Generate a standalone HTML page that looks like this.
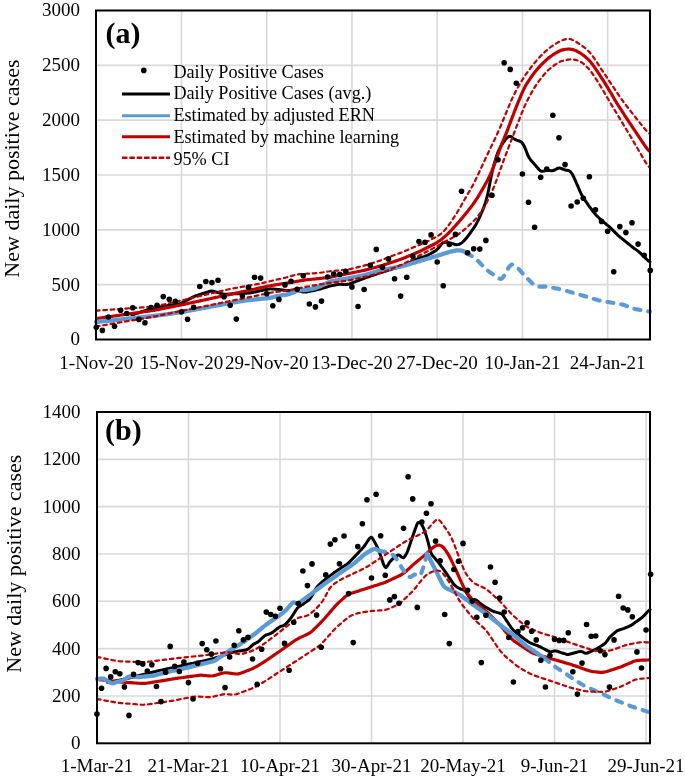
<!DOCTYPE html><html><head><meta charset="utf-8"><style>html,body{margin:0;padding:0;background:#fff;width:685px;height:778px;overflow:hidden}svg{display:block;will-change:transform}.t{font-family:"Liberation Serif",serif;font-size:19px;fill:#000}.ti{font-family:"Liberation Serif",serif;font-size:22px;fill:#000}.lg{font-family:"Liberation Serif",serif;font-size:18.2px;fill:#000}.lb{font-family:"Liberation Serif",serif;font-size:30px;font-weight:bold;fill:#000}</style></head><body>
<svg width="685" height="778" viewBox="0 0 685 778">
<rect width="685" height="778" fill="#fff"/>
<line x1="96" y1="65.33" x2="650" y2="65.33" stroke="#D9D9D9" stroke-width="1.6"/>
<line x1="96" y1="120.17" x2="650" y2="120.17" stroke="#D9D9D9" stroke-width="1.6"/>
<line x1="96" y1="175" x2="650" y2="175" stroke="#D9D9D9" stroke-width="1.6"/>
<line x1="96" y1="229.83" x2="650" y2="229.83" stroke="#D9D9D9" stroke-width="1.6"/>
<line x1="96" y1="284.67" x2="650" y2="284.67" stroke="#D9D9D9" stroke-width="1.6"/>
<line x1="181.49" y1="10.5" x2="181.49" y2="339.5" stroke="#D9D9D9" stroke-width="1.6"/>
<line x1="266.72" y1="10.5" x2="266.72" y2="339.5" stroke="#D9D9D9" stroke-width="1.6"/>
<line x1="351.95" y1="10.5" x2="351.95" y2="339.5" stroke="#D9D9D9" stroke-width="1.6"/>
<line x1="437.18" y1="10.5" x2="437.18" y2="339.5" stroke="#D9D9D9" stroke-width="1.6"/>
<line x1="522.41" y1="10.5" x2="522.41" y2="339.5" stroke="#D9D9D9" stroke-width="1.6"/>
<line x1="607.64" y1="10.5" x2="607.64" y2="339.5" stroke="#D9D9D9" stroke-width="1.6"/>
<text x="80" y="345.4" text-anchor="end" class="t">0</text>
<text x="80" y="290.57" text-anchor="end" class="t">500</text>
<text x="80" y="235.73" text-anchor="end" class="t">1000</text>
<text x="80" y="180.9" text-anchor="end" class="t">1500</text>
<text x="80" y="126.07" text-anchor="end" class="t">2000</text>
<text x="80" y="71.23" text-anchor="end" class="t">2500</text>
<text x="80" y="16.4" text-anchor="end" class="t">3000</text>
<text x="96.26" y="369" text-anchor="middle" class="t">1-Nov-20</text>
<text x="181.49" y="369" text-anchor="middle" class="t">15-Nov-20</text>
<text x="266.72" y="369" text-anchor="middle" class="t">29-Nov-20</text>
<text x="351.95" y="369" text-anchor="middle" class="t">13-Dec-20</text>
<text x="437.18" y="369" text-anchor="middle" class="t">27-Dec-20</text>
<text x="522.41" y="369" text-anchor="middle" class="t">10-Jan-21</text>
<text x="607.64" y="369" text-anchor="middle" class="t">24-Jan-21</text>
<text transform="translate(19,168.6) rotate(-90)" text-anchor="middle" class="ti">New daily positive cases</text>
<text x="105.5" y="42.6" class="lb">(a)</text>
<path d="M132 314.8 C132.33 314.72 133.33 314.5 134 314.31 C134.67 314.12 135.33 313.88 136 313.67 C136.67 313.45 137.33 313.22 138 313 C138.67 312.78 139.33 312.56 140 312.33 C140.67 312.1 141.33 311.88 142 311.65 C142.67 311.42 143.33 311.18 144 310.95 C144.67 310.72 145.33 310.48 146 310.25 C146.67 310.01 147.33 309.77 148 309.55 C148.67 309.33 149.33 309.09 150 308.9 C150.67 308.7 151.33 308.54 152 308.39 C152.67 308.24 153.33 308.13 154 308 C154.67 307.88 155.33 307.76 156 307.64 C156.67 307.51 157.33 307.39 158 307.27 C158.67 307.15 159.33 307.03 160 306.91 C160.67 306.79 161.33 306.67 162 306.55 C162.67 306.43 163.33 306.3 164 306.19 C164.67 306.08 165.33 305.97 166 305.86 C166.67 305.76 167.33 305.66 168 305.56 C168.67 305.46 169.33 305.36 170 305.27 C170.67 305.17 171.33 305.07 172 304.97 C172.67 304.88 173.33 304.78 174 304.68 C174.67 304.58 175.33 304.49 176 304.39 C176.67 304.28 177.33 304.2 178 304.07 C178.67 303.94 179.33 303.8 180 303.58 C180.67 303.35 181.33 303.05 182 302.74 C182.67 302.43 183.33 302.06 184 301.72 C184.67 301.38 185.33 301.03 186 300.68 C186.67 300.33 187.33 299.99 188 299.64 C188.67 299.29 189.33 298.95 190 298.6 C190.67 298.25 191.33 297.9 192 297.56 C192.67 297.22 193.33 296.87 194 296.57 C194.67 296.26 195.33 295.98 196 295.73 C196.67 295.48 197.33 295.27 198 295.06 C198.67 294.84 199.33 294.63 200 294.42 C200.67 294.21 201.33 294 202 293.79 C202.67 293.58 203.33 293.37 204 293.16 C204.67 292.95 205.33 292.74 206 292.53 C206.67 292.32 207.33 292.1 208 291.9 C208.67 291.7 209.33 291.46 210 291.32 C210.67 291.18 211.33 291.06 212 291.07 C212.67 291.09 213.33 291.25 214 291.4 C214.67 291.55 215.33 291.79 216 291.98 C216.67 292.18 217.33 292.39 218 292.6 C218.67 292.8 219.33 293.01 220 293.21 C220.67 293.41 221.33 293.63 222 293.79 C222.67 293.96 223.33 294.12 224 294.2 C224.67 294.28 225.33 294.27 226 294.27 C226.67 294.26 227.33 294.21 228 294.18 C228.67 294.15 229.33 294.11 230 294.07 C230.67 294.04 231.33 294 232 293.97 C232.67 293.93 233.33 293.89 234 293.86 C234.67 293.82 235.33 293.79 236 293.75 C236.67 293.72 237.33 293.68 238 293.64 C238.67 293.61 239.33 293.57 240 293.54 C240.67 293.5 241.33 293.46 242 293.43 C242.67 293.39 243.33 293.36 244 293.32 C244.67 293.29 245.33 293.25 246 293.21 C246.67 293.18 247.33 293.15 248 293.1 C248.67 293.05 249.33 292.99 250 292.9 C250.67 292.81 251.33 292.69 252 292.56 C252.67 292.43 253.33 292.28 254 292.14 C254.67 292 255.33 291.85 256 291.71 C256.67 291.57 257.33 291.42 258 291.28 C258.67 291.14 259.33 290.99 260 290.85 C260.67 290.71 261.33 290.56 262 290.42 C262.67 290.28 263.33 290.13 264 289.99 C264.67 289.85 265.33 289.7 266 289.56 C266.67 289.42 267.33 289.26 268 289.15 C268.67 289.04 269.33 288.92 270 288.88 C270.67 288.84 271.33 288.88 272 288.91 C272.67 288.94 273.33 289.02 274 289.08 C274.67 289.14 275.33 289.21 276 289.27 C276.67 289.34 277.33 289.41 278 289.48 C278.67 289.55 279.33 289.61 280 289.68 C280.67 289.75 281.33 289.82 282 289.89 C282.67 289.97 283.33 290.04 284 290.12 C284.67 290.2 285.33 290.29 286 290.37 C286.67 290.45 287.33 290.55 288 290.61 C288.67 290.68 289.33 290.74 290 290.74 C290.67 290.73 291.33 290.67 292 290.6 C292.67 290.54 293.33 290.41 294 290.36 C294.67 290.3 295.33 290.23 296 290.3 C296.67 290.36 297.33 290.56 298 290.74 C298.67 290.93 299.33 291.23 300 291.42 C300.67 291.6 301.33 291.76 302 291.87 C302.67 291.97 303.33 292.03 304 292.04 C304.67 292.05 305.33 292.01 306 291.94 C306.67 291.87 307.33 291.73 308 291.62 C308.67 291.5 309.33 291.36 310 291.23 C310.67 291.1 311.33 290.98 312 290.84 C312.67 290.71 313.33 290.57 314 290.42 C314.67 290.27 315.33 290.11 316 289.95 C316.67 289.79 317.33 289.62 318 289.45 C318.67 289.28 319.33 289.12 320 288.95 C320.67 288.78 321.33 288.61 322 288.43 C322.67 288.25 323.33 288.05 324 287.86 C324.67 287.66 325.33 287.45 326 287.24 C326.67 287.04 327.33 286.82 328 286.63 C328.67 286.43 329.33 286.24 330 286.06 C330.67 285.89 331.33 285.74 332 285.6 C332.67 285.45 333.33 285.32 334 285.18 C334.67 285.05 335.33 284.9 336 284.78 C336.67 284.65 337.33 284.51 338 284.44 C338.67 284.36 339.33 284.32 340 284.32 C340.67 284.31 341.33 284.36 342 284.39 C342.67 284.42 343.33 284.47 344 284.5 C344.67 284.53 345.33 284.59 346 284.56 C346.67 284.53 347.33 284.48 348 284.34 C348.67 284.2 349.33 283.96 350 283.73 C350.67 283.5 351.33 283.23 352 282.98 C352.67 282.72 353.33 282.47 354 282.21 C354.67 281.96 355.33 281.7 356 281.45 C356.67 281.19 357.33 280.94 358 280.68 C358.67 280.42 359.33 280.17 360 279.91 C360.67 279.66 361.33 279.4 362 279.15 C362.67 278.9 363.33 278.64 364 278.39 C364.67 278.15 365.33 277.9 366 277.67 C366.67 277.43 367.33 277.21 368 276.98 C368.67 276.75 369.33 276.52 370 276.3 C370.67 276.07 371.33 275.84 372 275.61 C372.67 275.39 373.33 275.16 374 274.93 C374.67 274.7 375.33 274.48 376 274.25 C376.67 274.02 377.33 273.8 378 273.57 C378.67 273.34 379.33 273.11 380 272.89 C380.67 272.66 381.33 272.44 382 272.22 C382.67 272 383.33 271.79 384 271.58 C384.67 271.38 385.33 271.18 386 270.98 C386.67 270.77 387.33 270.57 388 270.37 C388.67 270.17 389.33 269.97 390 269.77 C390.67 269.57 391.33 269.37 392 269.17 C392.67 268.96 393.33 268.76 394 268.56 C394.67 268.36 395.33 268.16 396 267.96 C396.67 267.76 397.33 267.56 398 267.36 C398.67 267.15 399.33 266.96 400 266.75 C400.67 266.54 401.33 266.33 402 266.08 C402.67 265.83 403.33 265.54 404 265.24 C404.67 264.94 405.33 264.61 406 264.28 C406.67 263.96 407.33 263.63 408 263.31 C408.67 262.98 409.33 262.65 410 262.33 C410.67 262 411.33 261.67 412 261.35 C412.67 261.02 413.33 260.69 414 260.37 C414.67 260.04 415.33 259.71 416 259.41 C416.67 259.11 417.33 258.83 418 258.57 C418.67 258.32 419.33 258.11 420 257.89 C420.67 257.67 421.33 257.47 422 257.26 C422.67 257.05 423.33 256.85 424 256.63 C424.67 256.42 425.33 256.21 426 255.95 C426.67 255.69 427.33 255.39 428 255.05 C428.67 254.72 429.33 254.32 430 253.94 C430.67 253.56 431.33 253.17 432 252.78 C432.67 252.39 433.33 252.01 434 251.6 C434.67 251.2 435.33 250.85 436 250.34 C436.67 249.83 437.33 249.28 438 248.56 C438.67 247.85 439.33 246.87 440 246.04 C440.67 245.21 441.33 244.19 442 243.58 C442.67 242.98 443.33 242.6 444 242.39 C444.67 242.17 445.33 242.29 446 242.31 C446.67 242.33 447.33 242.41 448 242.51 C448.67 242.6 449.33 242.72 450 242.88 C450.67 243.04 451.33 243.26 452 243.46 C452.67 243.67 453.33 243.91 454 244.11 C454.67 244.3 455.33 244.56 456 244.64 C456.67 244.72 457.33 244.73 458 244.6 C458.67 244.47 459.33 244.17 460 243.84 C460.67 243.51 461.33 243.15 462 242.65 C462.67 242.14 463.33 241.5 464 240.81 C464.67 240.12 465.33 239.29 466 238.49 C466.67 237.69 467.33 236.88 468 236.02 C468.67 235.17 469.33 234.27 470 233.35 C470.67 232.43 471.33 231.45 472 230.48 C472.67 229.52 473.33 228.57 474 227.56 C474.67 226.55 475.33 225.59 476 224.44 C476.67 223.29 477.33 222.02 478 220.67 C478.67 219.31 479.33 217.8 480 216.31 C480.67 214.83 481.33 213.36 482 211.76 C482.67 210.15 483.33 208.55 484 206.69 C484.67 204.83 485.33 202.91 486 200.6 C486.67 198.29 487.33 195.83 488 192.82 C488.67 189.81 489.33 185.88 490 182.54 C490.67 179.19 491.33 175.68 492 172.75 C492.67 169.82 493.33 167.44 494 164.97 C494.67 162.5 495.33 160.1 496 157.95 C496.67 155.79 497.33 153.74 498 152.06 C498.67 150.37 499.33 149.11 500 147.83 C500.67 146.55 501.33 145.44 502 144.38 C502.67 143.33 503.33 142.38 504 141.49 C504.67 140.6 505.33 139.79 506 139.04 C506.67 138.28 507.33 137.41 508 136.95 C508.67 136.48 509.33 136.17 510 136.23 C510.67 136.29 511.33 136.87 512 137.3 C512.67 137.73 513.33 138.38 514 138.81 C514.67 139.25 515.33 139.6 516 139.89 C516.67 140.18 517.33 140.33 518 140.57 C518.67 140.8 519.33 140.94 520 141.3 C520.67 141.66 521.33 142 522 142.75 C522.67 143.49 523.33 144.46 524 145.75 C524.67 147.05 525.33 148.9 526 150.53 C526.67 152.15 527.33 154.1 528 155.51 C528.67 156.93 529.33 158.04 530 159.03 C530.67 160.02 531.33 160.67 532 161.44 C532.67 162.22 533.33 162.93 534 163.69 C534.67 164.45 535.33 165.23 536 166.01 C536.67 166.79 537.33 167.64 538 168.38 C538.67 169.12 539.33 169.96 540 170.45 C540.67 170.93 541.33 171.21 542 171.29 C542.67 171.37 543.33 171.07 544 170.93 C544.67 170.78 545.33 170.53 546 170.44 C546.67 170.35 547.33 170.36 548 170.38 C548.67 170.41 549.33 170.55 550 170.6 C550.67 170.65 551.33 170.76 552 170.7 C552.67 170.63 553.33 170.46 554 170.22 C554.67 169.98 555.33 169.57 556 169.25 C556.67 168.94 557.33 168.51 558 168.31 C558.67 168.12 559.33 168 560 168.07 C560.67 168.14 561.33 168.48 562 168.74 C562.67 169 563.33 169.38 564 169.62 C564.67 169.85 565.33 170.02 566 170.17 C566.67 170.31 567.33 170.29 568 170.48 C568.67 170.67 569.33 170.75 570 171.3 C570.67 171.86 571.33 172.75 572 173.81 C572.67 174.86 573.33 176.28 574 177.65 C574.67 179.02 575.33 180.5 576 182 C576.67 183.51 577.33 185.11 578 186.66 C578.67 188.22 579.33 189.86 580 191.34 C580.67 192.81 581.33 194.26 582 195.5 C582.67 196.75 583.33 197.76 584 198.79 C584.67 199.82 585.33 200.72 586 201.68 C586.67 202.64 587.33 203.58 588 204.53 C588.67 205.47 589.33 206.42 590 207.34 C590.67 208.26 591.33 209.16 592 210.03 C592.67 210.91 593.33 211.77 594 212.59 C594.67 213.41 595.33 214.23 596 214.97 C596.67 215.7 597.33 216.37 598 217.01 C598.67 217.66 599.33 218.26 600 218.87 C600.67 219.47 601.33 220.07 602 220.65 C602.67 221.23 603.33 221.79 604 222.34 C604.67 222.9 605.33 223.45 606 224 C606.67 224.55 607.33 225.09 608 225.66 C608.67 226.23 609.33 226.8 610 227.41 C610.67 228.02 611.33 228.68 612 229.34 C612.67 229.99 613.33 230.68 614 231.35 C614.67 232.02 615.33 232.71 616 233.36 C616.67 234.01 617.33 234.66 618 235.26 C618.67 235.87 619.33 236.42 620 236.98 C620.67 237.54 621.33 238.07 622 238.62 C622.67 239.16 623.33 239.7 624 240.25 C624.67 240.79 625.33 241.33 626 241.87 C626.67 242.42 627.33 242.96 628 243.5 C628.67 244.04 629.33 244.59 630 245.12 C630.67 245.66 631.33 246.2 632 246.71 C632.67 247.22 633.33 247.71 634 248.19 C634.67 248.68 635.33 249.14 636 249.62 C636.67 250.11 637.33 250.58 638 251.11 C638.67 251.64 639.33 252.21 640 252.82 C640.67 253.42 641.33 254.08 642 254.72 C642.67 255.36 643.33 256.01 644 256.66 C644.67 257.31 645.33 257.97 646 258.61 C646.67 259.24 647.33 259.94 648 260.49 C648.67 261.04 649.67 261.68 650 261.92" fill="none" stroke="#000" stroke-width="3" stroke-linejoin="round" stroke-linecap="round"/>
<path d="M96 318.43 C96.33 318.4 97.33 318.32 98 318.25 C98.67 318.18 99.33 318.1 100 318.01 C100.67 317.93 101.33 317.83 102 317.74 C102.67 317.65 103.33 317.55 104 317.46 C104.67 317.37 105.33 317.27 106 317.18 C106.67 317.08 107.33 316.99 108 316.89 C108.67 316.8 109.33 316.7 110 316.61 C110.67 316.51 111.33 316.42 112 316.32 C112.67 316.23 113.33 316.13 114 316.04 C114.67 315.94 115.33 315.85 116 315.75 C116.67 315.66 117.33 315.56 118 315.47 C118.67 315.37 119.33 315.28 120 315.18 C120.67 315.09 121.33 314.99 122 314.9 C122.67 314.8 123.33 314.71 124 314.61 C124.67 314.52 125.33 314.42 126 314.33 C126.67 314.23 127.33 314.14 128 314.04 C128.67 313.95 129.33 313.85 130 313.76 C130.67 313.66 131.33 313.57 132 313.47 C132.67 313.38 133.33 313.28 134 313.19 C134.67 313.09 135.33 313 136 312.91 C136.67 312.81 137.33 312.72 138 312.62 C138.67 312.53 139.33 312.43 140 312.34 C140.67 312.24 141.33 312.15 142 312.05 C142.67 311.96 143.33 311.86 144 311.77 C144.67 311.67 145.33 311.58 146 311.48 C146.67 311.39 147.33 311.29 148 311.2 C148.67 311.1 149.33 311.01 150 310.91 C150.67 310.81 151.33 310.71 152 310.61 C152.67 310.51 153.33 310.41 154 310.3 C154.67 310.19 155.33 310.07 156 309.96 C156.67 309.84 157.33 309.71 158 309.59 C158.67 309.46 159.33 309.33 160 309.2 C160.67 309.07 161.33 308.93 162 308.8 C162.67 308.67 163.33 308.53 164 308.4 C164.67 308.27 165.33 308.13 166 308 C166.67 307.87 167.33 307.73 168 307.6 C168.67 307.47 169.33 307.33 170 307.2 C170.67 307.07 171.33 306.93 172 306.8 C172.67 306.67 173.33 306.53 174 306.4 C174.67 306.27 175.33 306.13 176 306 C176.67 305.86 177.33 305.73 178 305.59 C178.67 305.46 179.33 305.32 180 305.18 C180.67 305.04 181.33 304.9 182 304.76 C182.67 304.62 183.33 304.48 184 304.34 C184.67 304.19 185.33 304.05 186 303.91 C186.67 303.76 187.33 303.62 188 303.47 C188.67 303.33 189.33 303.19 190 303.04 C190.67 302.9 191.33 302.76 192 302.61 C192.67 302.47 193.33 302.32 194 302.18 C194.67 302.04 195.33 301.89 196 301.75 C196.67 301.6 197.33 301.46 198 301.32 C198.67 301.17 199.33 301.03 200 300.89 C200.67 300.74 201.33 300.6 202 300.45 C202.67 300.31 203.33 300.17 204 300.02 C204.67 299.88 205.33 299.74 206 299.59 C206.67 299.45 207.33 299.3 208 299.16 C208.67 299.02 209.33 298.87 210 298.73 C210.67 298.58 211.33 298.44 212 298.3 C212.67 298.15 213.33 298.01 214 297.87 C214.67 297.72 215.33 297.58 216 297.43 C216.67 297.29 217.33 297.15 218 297 C218.67 296.86 219.33 296.72 220 296.57 C220.67 296.43 221.33 296.28 222 296.14 C222.67 296 223.33 295.85 224 295.71 C224.67 295.56 225.33 295.42 226 295.28 C226.67 295.13 227.33 294.99 228 294.85 C228.67 294.7 229.33 294.56 230 294.41 C230.67 294.27 231.33 294.13 232 293.98 C232.67 293.84 233.33 293.7 234 293.55 C234.67 293.41 235.33 293.26 236 293.12 C236.67 292.98 237.33 292.83 238 292.69 C238.67 292.54 239.33 292.4 240 292.26 C240.67 292.11 241.33 291.97 242 291.83 C242.67 291.68 243.33 291.54 244 291.39 C244.67 291.25 245.33 291.11 246 290.96 C246.67 290.82 247.33 290.67 248 290.53 C248.67 290.38 249.33 290.24 250 290.09 C250.67 289.95 251.33 289.8 252 289.66 C252.67 289.51 253.33 289.37 254 289.22 C254.67 289.07 255.33 288.93 256 288.78 C256.67 288.63 257.33 288.49 258 288.34 C258.67 288.19 259.33 288.05 260 287.9 C260.67 287.75 261.33 287.61 262 287.46 C262.67 287.31 263.33 287.17 264 287.02 C264.67 286.88 265.33 286.73 266 286.59 C266.67 286.45 267.33 286.3 268 286.17 C268.67 286.03 269.33 285.9 270 285.78 C270.67 285.65 271.33 285.54 272 285.42 C272.67 285.31 273.33 285.2 274 285.09 C274.67 284.98 275.33 284.88 276 284.78 C276.67 284.67 277.33 284.57 278 284.47 C278.67 284.36 279.33 284.26 280 284.16 C280.67 284.05 281.33 283.95 282 283.85 C282.67 283.74 283.33 283.64 284 283.54 C284.67 283.43 285.33 283.33 286 283.22 C286.67 283.11 287.33 283.01 288 282.9 C288.67 282.79 289.33 282.68 290 282.57 C290.67 282.45 291.33 282.34 292 282.23 C292.67 282.11 293.33 282 294 281.89 C294.67 281.77 295.33 281.66 296 281.54 C296.67 281.43 297.33 281.31 298 281.2 C298.67 281.09 299.33 280.97 300 280.86 C300.67 280.75 301.33 280.64 302 280.53 C302.67 280.43 303.33 280.32 304 280.22 C304.67 280.13 305.33 280.04 306 279.95 C306.67 279.86 307.33 279.79 308 279.71 C308.67 279.63 309.33 279.56 310 279.49 C310.67 279.42 311.33 279.35 312 279.28 C312.67 279.22 313.33 279.15 314 279.08 C314.67 279.01 315.33 278.94 316 278.87 C316.67 278.81 317.33 278.74 318 278.67 C318.67 278.6 319.33 278.53 320 278.46 C320.67 278.38 321.33 278.31 322 278.23 C322.67 278.15 323.33 278.07 324 277.99 C324.67 277.9 325.33 277.82 326 277.73 C326.67 277.63 327.33 277.54 328 277.44 C328.67 277.34 329.33 277.23 330 277.12 C330.67 277.01 331.33 276.89 332 276.77 C332.67 276.65 333.33 276.52 334 276.39 C334.67 276.26 335.33 276.13 336 276 C336.67 275.87 337.33 275.73 338 275.6 C338.67 275.47 339.33 275.33 340 275.2 C340.67 275.07 341.33 274.93 342 274.8 C342.67 274.67 343.33 274.53 344 274.4 C344.67 274.27 345.33 274.13 346 274 C346.67 273.87 347.33 273.73 348 273.6 C348.67 273.47 349.33 273.33 350 273.2 C350.67 273.07 351.33 272.93 352 272.8 C352.67 272.67 353.33 272.53 354 272.4 C354.67 272.27 355.33 272.13 356 272 C356.67 271.87 357.33 271.73 358 271.6 C358.67 271.47 359.33 271.33 360 271.2 C360.67 271.06 361.33 270.92 362 270.78 C362.67 270.64 363.33 270.5 364 270.34 C364.67 270.19 365.33 270.04 366 269.87 C366.67 269.71 367.33 269.54 368 269.36 C368.67 269.19 369.33 269.01 370 268.83 C370.67 268.65 371.33 268.47 372 268.29 C372.67 268.11 373.33 267.93 374 267.75 C374.67 267.56 375.33 267.38 376 267.2 C376.67 267.02 377.33 266.83 378 266.65 C378.67 266.46 379.33 266.28 380 266.09 C380.67 265.9 381.33 265.7 382 265.5 C382.67 265.3 383.33 265.1 384 264.89 C384.67 264.68 385.33 264.46 386 264.24 C386.67 264.02 387.33 263.8 388 263.58 C388.67 263.36 389.33 263.13 390 262.91 C390.67 262.68 391.33 262.46 392 262.24 C392.67 262.01 393.33 261.79 394 261.56 C394.67 261.34 395.33 261.11 396 260.89 C396.67 260.66 397.33 260.44 398 260.21 C398.67 259.98 399.33 259.75 400 259.51 C400.67 259.28 401.33 259.04 402 258.79 C402.67 258.54 403.33 258.28 404 258.01 C404.67 257.75 405.33 257.48 406 257.2 C406.67 256.93 407.33 256.65 408 256.37 C408.67 256.09 409.33 255.81 410 255.53 C410.67 255.25 411.33 254.96 412 254.68 C412.67 254.4 413.33 254.12 414 253.84 C414.67 253.55 415.33 253.27 416 252.98 C416.67 252.69 417.33 252.41 418 252.11 C418.67 251.82 419.33 251.52 420 251.21 C420.67 250.9 421.33 250.58 422 250.27 C422.67 249.95 423.33 249.62 424 249.29 C424.67 248.96 425.33 248.63 426 248.3 C426.67 247.97 427.33 247.63 428 247.3 C428.67 246.97 429.33 246.63 430 246.3 C430.67 245.96 431.33 245.63 432 245.29 C432.67 244.95 433.33 244.61 434 244.25 C434.67 243.89 435.33 243.53 436 243.13 C436.67 242.74 437.33 242.32 438 241.88 C438.67 241.44 439.33 240.96 440 240.47 C440.67 239.99 441.33 239.47 442 238.94 C442.67 238.42 443.33 237.88 444 237.31 C444.67 236.75 445.33 236.18 446 235.57 C446.67 234.96 447.33 234.33 448 233.68 C448.67 233.02 449.33 232.34 450 231.64 C450.67 230.94 451.33 230.22 452 229.5 C452.67 228.78 453.33 228.05 454 227.31 C454.67 226.58 455.33 225.84 456 225.09 C456.67 224.34 457.33 223.59 458 222.82 C458.67 222.06 459.33 221.29 460 220.51 C460.67 219.73 461.33 218.95 462 218.16 C462.67 217.37 463.33 216.59 464 215.79 C464.67 214.99 465.33 214.2 466 213.38 C466.67 212.57 467.33 211.75 468 210.91 C468.67 210.07 469.33 209.22 470 208.34 C470.67 207.47 471.33 206.57 472 205.66 C472.67 204.75 473.33 203.82 474 202.86 C474.67 201.91 475.33 200.93 476 199.92 C476.67 198.92 477.33 197.88 478 196.81 C478.67 195.75 479.33 194.65 480 193.54 C480.67 192.42 481.33 191.29 482 190.13 C482.67 188.98 483.33 187.81 484 186.62 C484.67 185.43 485.33 184.22 486 182.98 C486.67 181.74 487.33 180.48 488 179.16 C488.67 177.84 489.33 176.49 490 175.06 C490.67 173.63 491.33 172.15 492 170.57 C492.67 168.98 493.33 167.32 494 165.57 C494.67 163.82 495.33 161.94 496 160.07 C496.67 158.2 497.33 156.21 498 154.33 C498.67 152.44 499.33 150.54 500 148.76 C500.67 146.97 501.33 145.27 502 143.6 C502.67 141.93 503.33 140.36 504 138.73 C504.67 137.1 505.33 135.49 506 133.82 C506.67 132.15 507.33 130.43 508 128.69 C508.67 126.94 509.33 125.13 510 123.35 C510.67 121.56 511.33 119.74 512 117.96 C512.67 116.19 513.33 114.43 514 112.7 C514.67 110.98 515.33 109.3 516 107.63 C516.67 105.96 517.33 104.32 518 102.7 C518.67 101.07 519.33 99.46 520 97.88 C520.67 96.3 521.33 94.72 522 93.22 C522.67 91.73 523.33 90.26 524 88.91 C524.67 87.55 525.33 86.28 526 85.09 C526.67 83.9 527.33 82.83 528 81.78 C528.67 80.73 529.33 79.77 530 78.8 C530.67 77.84 531.33 76.91 532 75.99 C532.67 75.07 533.33 74.16 534 73.28 C534.67 72.4 535.33 71.54 536 70.72 C536.67 69.9 537.33 69.11 538 68.36 C538.67 67.6 539.33 66.89 540 66.18 C540.67 65.48 541.33 64.8 542 64.12 C542.67 63.45 543.33 62.79 544 62.14 C544.67 61.49 545.33 60.84 546 60.23 C546.67 59.62 547.33 59.02 548 58.46 C548.67 57.9 549.33 57.38 550 56.88 C550.67 56.38 551.33 55.91 552 55.45 C552.67 55 553.33 54.56 554 54.13 C554.67 53.71 555.33 53.28 556 52.89 C556.67 52.49 557.33 52.09 558 51.75 C558.67 51.4 559.33 51.08 560 50.8 C560.67 50.53 561.33 50.3 562 50.1 C562.67 49.9 563.33 49.75 564 49.6 C564.67 49.46 565.33 49.34 566 49.25 C566.67 49.16 567.33 49.07 568 49.04 C568.67 49.01 569.33 49 570 49.06 C570.67 49.12 571.33 49.23 572 49.39 C572.67 49.55 573.33 49.77 574 50.01 C574.67 50.25 575.33 50.53 576 50.83 C576.67 51.13 577.33 51.45 578 51.8 C578.67 52.15 579.33 52.53 580 52.94 C580.67 53.35 581.33 53.8 582 54.28 C582.67 54.75 583.33 55.25 584 55.78 C584.67 56.3 585.33 56.84 586 57.41 C586.67 57.98 587.33 58.57 588 59.21 C588.67 59.86 589.33 60.55 590 61.3 C590.67 62.06 591.33 62.89 592 63.75 C592.67 64.62 593.33 65.56 594 66.5 C594.67 67.45 595.33 68.44 596 69.43 C596.67 70.42 597.33 71.42 598 72.43 C598.67 73.44 599.33 74.46 600 75.48 C600.67 76.51 601.33 77.54 602 78.58 C602.67 79.62 603.33 80.66 604 81.72 C604.67 82.77 605.33 83.82 606 84.89 C606.67 85.96 607.33 87.03 608 88.13 C608.67 89.22 609.33 90.33 610 91.46 C610.67 92.59 611.33 93.76 612 94.91 C612.67 96.06 613.33 97.24 614 98.38 C614.67 99.52 615.33 100.65 616 101.75 C616.67 102.85 617.33 103.92 618 104.98 C618.67 106.04 619.33 107.07 620 108.1 C620.67 109.13 621.33 110.16 622 111.18 C622.67 112.2 623.33 113.22 624 114.25 C624.67 115.27 625.33 116.29 626 117.31 C626.67 118.33 627.33 119.35 628 120.37 C628.67 121.39 629.33 122.4 630 123.42 C630.67 124.43 631.33 125.45 632 126.46 C632.67 127.46 633.33 128.47 634 129.47 C634.67 130.47 635.33 131.47 636 132.47 C636.67 133.47 637.33 134.47 638 135.47 C638.67 136.46 639.33 137.46 640 138.46 C640.67 139.45 641.33 140.45 642 141.44 C642.67 142.43 643.33 143.43 644 144.4 C644.67 145.36 645.33 146.34 646 147.23 C646.67 148.12 647.33 149 648 149.73 C648.67 150.46 649.67 151.3 650 151.61" fill="none" stroke="#C00000" stroke-width="3.2" stroke-linejoin="round"/>
<path d="M96 321.92 C96.33 321.89 97.33 321.83 98 321.78 C98.67 321.72 99.34 321.65 100 321.58 C100.67 321.52 101.34 321.45 102 321.38 C102.67 321.31 103.34 321.24 104.01 321.17 C104.67 321.1 105.34 321.03 106.01 320.97 C106.68 320.9 107.34 320.83 108.01 320.76 C108.68 320.69 109.34 320.62 110.01 320.55 C110.68 320.48 111.35 320.41 112.01 320.34 C112.68 320.28 113.35 320.21 114.01 320.14 C114.68 320.07 115.35 320 116.02 319.93 C116.68 319.86 117.35 319.79 118.02 319.72 C118.69 319.65 119.35 319.59 120.02 319.52 C120.69 319.45 121.35 319.38 122.02 319.31 C122.69 319.24 123.36 319.17 124.02 319.1 C124.69 319.03 125.36 318.96 126.02 318.9 C126.69 318.83 127.36 318.76 128.03 318.69 C128.69 318.62 129.36 318.55 130.03 318.48 C130.69 318.41 131.36 318.34 132.03 318.27 C132.7 318.21 133.36 318.14 134.03 318.07 C134.7 318 135.37 317.93 136.03 317.86 C136.7 317.79 137.37 317.72 138.03 317.65 C138.7 317.59 139.37 317.52 140.04 317.45 C140.7 317.38 141.37 317.31 142.04 317.24 C142.7 317.17 143.37 317.1 144.04 317.03 C144.71 316.96 145.37 316.9 146.04 316.83 C146.71 316.76 147.37 316.69 148.04 316.62 C148.71 316.55 149.38 316.48 150.04 316.41 C150.71 316.34 151.38 316.27 152.05 316.2 C152.71 316.13 153.38 316.06 154.05 315.98 C154.71 315.91 155.38 315.82 156.05 315.74 C156.72 315.65 157.38 315.56 158.05 315.47 C158.72 315.38 159.38 315.29 160.05 315.19 C160.72 315.1 161.39 315.01 162.05 314.91 C162.72 314.82 163.39 314.73 164.06 314.63 C164.72 314.54 165.39 314.45 166.06 314.35 C166.72 314.26 167.39 314.17 168.06 314.07 C168.73 313.98 169.39 313.89 170.06 313.79 C170.73 313.7 171.39 313.6 172.06 313.51 C172.73 313.42 173.4 313.32 174.06 313.23 C174.73 313.14 175.4 313.04 176.06 312.95 C176.73 312.86 177.4 312.76 178.07 312.66 C178.73 312.56 179.4 312.46 180.07 312.35 C180.74 312.24 181.4 312.12 182.07 312 C182.74 311.88 183.4 311.76 184.07 311.63 C184.74 311.51 185.41 311.38 186.07 311.26 C186.74 311.13 187.41 311.01 188.07 310.88 C188.74 310.76 189.41 310.63 190.08 310.51 C190.74 310.38 191.41 310.25 192.08 310.13 C192.75 310 193.41 309.88 194.08 309.75 C194.75 309.63 195.41 309.5 196.08 309.38 C196.75 309.25 197.42 309.13 198.08 309 C198.75 308.88 199.42 308.75 200.08 308.62 C200.75 308.5 201.42 308.37 202.09 308.25 C202.75 308.12 203.42 308 204.09 307.87 C204.75 307.75 205.42 307.62 206.09 307.5 C206.76 307.37 207.42 307.24 208.09 307.12 C208.76 306.99 209.43 306.87 210.09 306.74 C210.76 306.62 211.43 306.49 212.09 306.37 C212.76 306.24 213.43 306.12 214.1 305.99 C214.76 305.86 215.43 305.74 216.1 305.61 C216.76 305.49 217.43 305.36 218.1 305.24 C218.77 305.11 219.43 304.99 220.1 304.86 C220.77 304.74 221.43 304.61 222.1 304.48 C222.77 304.36 223.44 304.23 224.1 304.11 C224.77 303.98 225.44 303.86 226.11 303.73 C226.77 303.61 227.44 303.48 228.11 303.36 C228.77 303.24 229.44 303.12 230.11 303 C230.78 302.88 231.44 302.77 232.11 302.65 C232.78 302.54 233.44 302.43 234.11 302.31 C234.78 302.2 235.45 302.09 236.11 301.98 C236.78 301.87 237.45 301.76 238.12 301.65 C238.78 301.54 239.45 301.43 240.12 301.32 C240.78 301.22 241.45 301.11 242.12 301.02 C242.79 300.92 243.45 300.83 244.12 300.74 C244.79 300.65 245.45 300.57 246.12 300.49 C246.79 300.4 247.46 300.32 248.12 300.24 C248.79 300.16 249.46 300.08 250.12 300 C250.79 299.93 251.46 299.85 252.13 299.78 C252.79 299.71 253.46 299.64 254.13 299.57 C254.8 299.5 255.46 299.43 256.13 299.36 C256.8 299.29 257.46 299.22 258.13 299.15 C258.8 299.08 259.47 299.01 260.13 298.94 C260.8 298.87 261.47 298.8 262.13 298.73 C262.8 298.66 263.47 298.59 264.14 298.52 C264.8 298.45 265.47 298.38 266.14 298.3 C266.81 298.23 267.47 298.16 268.14 298.07 C268.81 297.98 269.47 297.88 270.14 297.76 C270.81 297.64 271.48 297.49 272.14 297.34 C272.81 297.19 273.48 297.02 274.14 296.86 C274.81 296.7 275.48 296.53 276.15 296.37 C276.81 296.21 277.48 296.06 278.15 295.91 C278.81 295.77 279.48 295.65 280.15 295.53 C280.82 295.41 281.48 295.31 282.15 295.2 C282.82 295.1 283.49 295 284.15 294.9 C284.82 294.79 285.49 294.69 286.15 294.56 C286.82 294.44 287.49 294.31 288.16 294.15 C288.82 293.99 289.49 293.83 290.16 293.63 C290.82 293.43 291.49 293.22 292.16 292.96 C292.83 292.7 293.49 292.37 294.16 292.06 C294.83 291.75 295.49 291.37 296.16 291.12 C296.83 290.86 297.5 290.67 298.16 290.53 C298.83 290.4 299.5 290.36 300.17 290.29 C300.83 290.23 301.5 290.2 302.17 290.16 C302.83 290.11 303.5 290.07 304.17 290.01 C304.84 289.95 305.5 289.88 306.17 289.8 C306.84 289.72 307.5 289.62 308.17 289.53 C308.84 289.43 309.51 289.34 310.17 289.23 C310.84 289.12 311.51 289.02 312.18 288.88 C312.84 288.74 313.51 288.59 314.18 288.39 C314.84 288.2 315.51 287.97 316.18 287.73 C316.85 287.49 317.51 287.22 318.18 286.95 C318.85 286.69 319.51 286.43 320.18 286.15 C320.85 285.88 321.52 285.6 322.18 285.3 C322.85 285.01 323.52 284.7 324.18 284.38 C324.85 284.07 325.52 283.73 326.19 283.41 C326.85 283.09 327.52 282.76 328.19 282.47 C328.86 282.19 329.52 281.92 330.19 281.7 C330.86 281.48 331.52 281.32 332.19 281.17 C332.86 281.02 333.53 280.91 334.19 280.79 C334.86 280.66 335.53 280.55 336.19 280.44 C336.86 280.32 337.53 280.21 338.2 280.09 C338.86 279.98 339.53 279.87 340.2 279.75 C340.87 279.64 341.53 279.52 342.2 279.41 C342.87 279.29 343.53 279.18 344.2 279.06 C344.87 278.95 345.54 278.83 346.2 278.71 C346.87 278.59 347.54 278.47 348.2 278.35 C348.87 278.22 349.54 278.09 350.21 277.96 C350.87 277.83 351.54 277.69 352.21 277.56 C352.87 277.43 353.54 277.29 354.21 277.16 C354.88 277.02 355.54 276.89 356.21 276.76 C356.88 276.62 357.55 276.49 358.21 276.36 C358.88 276.22 359.55 276.09 360.21 275.96 C360.88 275.82 361.55 275.69 362.22 275.55 C362.88 275.41 363.55 275.27 364.22 275.11 C364.88 274.96 365.55 274.79 366.22 274.61 C366.89 274.43 367.55 274.24 368.22 274.04 C368.89 273.85 369.55 273.65 370.22 273.46 C370.89 273.26 371.56 273.06 372.22 272.87 C372.89 272.67 373.56 272.47 374.23 272.27 C374.89 272.08 375.56 271.88 376.23 271.68 C376.89 271.49 377.56 271.29 378.23 271.09 C378.9 270.9 379.56 270.7 380.23 270.51 C380.9 270.33 381.56 270.14 382.23 269.98 C382.9 269.82 383.57 269.67 384.23 269.53 C384.9 269.39 385.57 269.27 386.24 269.15 C386.9 269.02 387.57 268.9 388.24 268.78 C388.9 268.66 389.57 268.54 390.24 268.42 C390.91 268.3 391.57 268.18 392.24 268.06 C392.91 267.94 393.57 267.81 394.24 267.69 C394.91 267.57 395.58 267.45 396.24 267.33 C396.91 267.21 397.58 267.09 398.24 266.97 C398.91 266.85 399.58 266.73 400.25 266.59 C400.91 266.46 401.58 266.32 402.25 266.16 C402.92 266.01 403.58 265.83 404.25 265.64 C404.92 265.46 405.58 265.26 406.25 265.06 C406.92 264.86 407.59 264.66 408.25 264.46 C408.92 264.26 409.59 264.05 410.25 263.85 C410.92 263.65 411.59 263.45 412.26 263.25 C412.92 263.04 413.59 262.84 414.26 262.64 C414.93 262.44 415.59 262.23 416.26 262.03 C416.93 261.83 417.59 261.63 418.26 261.43 C418.93 261.23 419.6 261.03 420.26 260.83 C420.93 260.63 421.6 260.43 422.26 260.23 C422.93 260.03 423.6 259.84 424.27 259.64 C424.93 259.44 425.6 259.25 426.27 259.05 C426.93 258.85 427.6 258.65 428.27 258.46 C428.94 258.26 429.6 258.06 430.27 257.87 C430.94 257.67 431.61 257.47 432.27 257.27 C432.94 257.08 433.61 256.88 434.27 256.68 C434.94 256.48 435.61 256.29 436.28 256.08 C436.94 255.88 437.61 255.68 438.28 255.47 C438.94 255.26 439.61 255.05 440.28 254.84 C440.95 254.62 441.61 254.41 442.28 254.2 C442.95 253.98 443.61 253.77 444.28 253.55 C444.95 253.34 445.62 253.12 446.28 252.92 C446.95 252.71 447.62 252.51 448.29 252.32 C448.95 252.13 449.62 251.95 450.29 251.78 C450.95 251.61 451.62 251.46 452.29 251.3 C452.96 251.15 453.62 250.99 454.29 250.85 C454.96 250.72 455.62 250.58 456.29 250.49 C456.96 250.41 457.63 250.36 458.29 250.35 C458.96 250.35 459.63 250.39 460.3 250.47 C460.96 250.56 461.63 250.67 462.3 250.86 C462.96 251.04 463.63 251.32 464.3 251.58 C464.97 251.83 465.97 252.24 466.3 252.37" fill="none" stroke="#5B9BD5" stroke-width="4.3" stroke-linecap="round" stroke-linejoin="round"/>
<path d="M466.3 253.45 C466.63 253.58 467.63 253.92 468.3 254.22 C468.96 254.52 469.63 254.9 470.29 255.26 C470.96 255.63 471.62 256 472.29 256.4 C472.96 256.8 473.62 257.18 474.29 257.65 C474.95 258.12 475.62 258.64 476.28 259.23 C476.95 259.81 477.61 260.49 478.28 261.17 C478.95 261.85 479.61 262.59 480.28 263.3 C480.94 264.01 481.61 264.73 482.27 265.41 C482.94 266.09 483.61 266.76 484.27 267.39 C484.94 268.03 485.6 268.65 486.27 269.25 C486.93 269.85 487.6 270.44 488.26 270.98 C488.93 271.52 489.6 272.04 490.26 272.51 C490.93 272.99 491.59 273.41 492.26 273.84 C492.92 274.28 493.59 274.67 494.25 275.11 C494.92 275.55 495.59 276.01 496.25 276.48 C496.92 276.95 497.58 277.55 498.25 277.95 C498.91 278.36 499.58 278.87 500.24 278.91 C500.91 278.94 501.58 278.75 502.24 278.19 C502.91 277.63 503.57 276.59 504.24 275.55 C504.9 274.52 505.57 273.18 506.23 271.98 C506.9 270.77 507.57 269.4 508.23 268.32 C508.9 267.25 509.56 266.16 510.23 265.54 C510.89 264.91 511.56 264.62 512.23 264.54 C512.89 264.47 513.56 264.78 514.22 265.1 C514.89 265.43 515.55 265.94 516.22 266.49 C516.88 267.04 517.55 267.73 518.22 268.41 C518.88 269.1 519.55 269.87 520.21 270.61 C520.88 271.36 521.54 272.13 522.21 272.88 C522.87 273.63 523.54 274.38 524.21 275.11 C524.87 275.84 525.54 276.55 526.2 277.25 C526.87 277.94 527.53 278.62 528.2 279.29 C528.86 279.97 529.53 280.63 530.2 281.29 C530.86 281.95 531.53 282.64 532.19 283.26 C532.86 283.88 533.52 284.53 534.19 285.02 C534.85 285.51 535.52 285.92 536.19 286.19 C536.85 286.46 537.52 286.54 538.18 286.62 C538.85 286.7 539.51 286.66 540.18 286.66 C540.84 286.66 541.51 286.63 542.18 286.62 C542.84 286.61 543.51 286.58 544.17 286.59 C544.84 286.6 545.5 286.61 546.17 286.66 C546.84 286.7 547.5 286.78 548.17 286.87 C548.83 286.96 549.5 287.07 550.16 287.19 C550.83 287.3 551.49 287.43 552.16 287.56 C552.83 287.69 553.49 287.83 554.16 287.97 C554.82 288.1 555.49 288.24 556.15 288.39 C556.82 288.53 557.48 288.67 558.15 288.82 C558.82 288.97 559.48 289.12 560.15 289.28 C560.81 289.44 561.48 289.61 562.14 289.78 C562.81 289.95 563.47 290.13 564.14 290.31 C564.81 290.48 565.47 290.66 566.14 290.84 C566.8 291.02 567.47 291.2 568.13 291.37 C568.8 291.55 569.46 291.73 570.13 291.91 C570.8 292.09 571.46 292.27 572.13 292.45 C572.79 292.64 573.46 292.82 574.12 293.01 C574.79 293.2 575.46 293.4 576.12 293.59 C576.79 293.79 577.45 293.99 578.12 294.18 C578.78 294.38 579.45 294.58 580.11 294.77 C580.78 294.97 581.45 295.17 582.11 295.36 C582.78 295.56 583.44 295.76 584.11 295.95 C584.77 296.15 585.44 296.35 586.1 296.55 C586.77 296.75 587.44 296.95 588.1 297.15 C588.77 297.35 589.43 297.56 590.1 297.76 C590.76 297.96 591.43 298.17 592.09 298.37 C592.76 298.57 593.43 298.78 594.09 298.98 C594.76 299.18 595.42 299.39 596.09 299.58 C596.75 299.78 597.42 299.98 598.08 300.16 C598.75 300.33 599.42 300.5 600.08 300.64 C600.75 300.79 601.41 300.91 602.08 301.03 C602.74 301.15 603.41 301.26 604.08 301.37 C604.74 301.48 605.41 301.59 606.07 301.7 C606.74 301.81 607.4 301.92 608.07 302.03 C608.73 302.14 609.4 302.25 610.07 302.36 C610.73 302.46 611.4 302.57 612.06 302.68 C612.73 302.79 613.39 302.9 614.06 303.01 C614.72 303.12 615.39 303.23 616.06 303.34 C616.72 303.45 617.39 303.56 618.05 303.67 C618.72 303.78 619.38 303.89 620.05 304.01 C620.71 304.14 621.38 304.26 622.05 304.43 C622.71 304.6 623.38 304.79 624.04 305.02 C624.71 305.25 625.37 305.52 626.04 305.79 C626.7 306.07 627.37 306.36 628.04 306.64 C628.7 306.93 629.37 307.22 630.03 307.48 C630.7 307.74 631.36 308 632.03 308.22 C632.69 308.43 633.36 308.61 634.03 308.77 C634.69 308.93 635.36 309.06 636.02 309.19 C636.69 309.32 637.35 309.44 638.02 309.57 C638.69 309.69 639.35 309.81 640.02 309.94 C640.68 310.06 641.35 310.19 642.01 310.31 C642.68 310.43 643.34 310.56 644.01 310.68 C644.68 310.81 645.34 310.93 646.01 311.05 C646.67 311.17 647.34 311.3 648 311.39 C648.67 311.48 649.67 311.58 650 311.61" fill="none" stroke="#5B9BD5" stroke-width="4.1" stroke-linecap="round" stroke-linejoin="round" stroke-dasharray="6.1 7.9"/>
<path d="M96 310.61 C96.33 310.6 97.33 310.56 98 310.53 C98.67 310.49 99.33 310.45 100 310.41 C100.67 310.36 101.33 310.32 102 310.27 C102.67 310.23 103.33 310.18 104 310.13 C104.67 310.08 105.33 310.04 106 309.99 C106.67 309.94 107.33 309.89 108 309.85 C108.67 309.8 109.33 309.75 110 309.7 C110.67 309.66 111.33 309.61 112 309.56 C112.67 309.51 113.33 309.47 114 309.42 C114.67 309.37 115.33 309.32 116 309.28 C116.67 309.23 117.33 309.18 118 309.13 C118.67 309.09 119.33 309.04 120 308.99 C120.67 308.94 121.33 308.9 122 308.85 C122.67 308.8 123.33 308.75 124 308.71 C124.67 308.66 125.33 308.61 126 308.56 C126.67 308.52 127.33 308.47 128 308.42 C128.67 308.37 129.33 308.33 130 308.28 C130.67 308.23 131.33 308.18 132 308.14 C132.67 308.09 133.33 308.04 134 307.99 C134.67 307.95 135.33 307.9 136 307.85 C136.67 307.81 137.33 307.76 138 307.71 C138.67 307.66 139.33 307.62 140 307.57 C140.67 307.52 141.33 307.47 142 307.43 C142.67 307.38 143.33 307.33 144 307.28 C144.67 307.24 145.33 307.19 146 307.14 C146.67 307.09 147.33 307.05 148 307 C148.67 306.95 149.33 306.9 150 306.85 C150.67 306.79 151.33 306.74 152 306.67 C152.67 306.61 153.33 306.54 154 306.45 C154.67 306.36 155.33 306.27 156 306.15 C156.67 306.04 157.33 305.91 158 305.78 C158.67 305.64 159.33 305.5 160 305.35 C160.67 305.2 161.33 305.05 162 304.9 C162.67 304.75 163.33 304.6 164 304.45 C164.67 304.3 165.33 304.14 166 303.99 C166.67 303.84 167.33 303.69 168 303.54 C168.67 303.38 169.33 303.23 170 303.08 C170.67 302.93 171.33 302.78 172 302.62 C172.67 302.47 173.33 302.32 174 302.17 C174.67 302.02 175.33 301.86 176 301.71 C176.67 301.56 177.33 301.41 178 301.25 C178.67 301.1 179.33 300.95 180 300.79 C180.67 300.64 181.33 300.48 182 300.32 C182.67 300.17 183.33 300.01 184 299.85 C184.67 299.7 185.33 299.54 186 299.38 C186.67 299.23 187.33 299.07 188 298.91 C188.67 298.75 189.33 298.6 190 298.44 C190.67 298.28 191.33 298.13 192 297.97 C192.67 297.81 193.33 297.65 194 297.5 C194.67 297.34 195.33 297.18 196 297.02 C196.67 296.87 197.33 296.71 198 296.55 C198.67 296.39 199.33 296.24 200 296.08 C200.67 295.92 201.33 295.77 202 295.61 C202.67 295.45 203.33 295.29 204 295.14 C204.67 294.98 205.33 294.82 206 294.66 C206.67 294.51 207.33 294.35 208 294.19 C208.67 294.03 209.33 293.88 210 293.72 C210.67 293.56 211.33 293.41 212 293.25 C212.67 293.09 213.33 292.93 214 292.78 C214.67 292.62 215.33 292.46 216 292.3 C216.67 292.15 217.33 291.99 218 291.83 C218.67 291.67 219.33 291.52 220 291.36 C220.67 291.2 221.33 291.05 222 290.89 C222.67 290.73 223.33 290.57 224 290.42 C224.67 290.26 225.33 290.1 226 289.95 C226.67 289.8 227.33 289.64 228 289.5 C228.67 289.35 229.33 289.21 230 289.07 C230.67 288.93 231.33 288.8 232 288.67 C232.67 288.54 233.33 288.41 234 288.29 C234.67 288.16 235.33 288.04 236 287.92 C236.67 287.8 237.33 287.68 238 287.56 C238.67 287.44 239.33 287.32 240 287.2 C240.67 287.08 241.33 286.96 242 286.84 C242.67 286.72 243.33 286.6 244 286.48 C244.67 286.36 245.33 286.24 246 286.12 C246.67 286 247.33 285.88 248 285.76 C248.67 285.64 249.33 285.52 250 285.4 C250.67 285.28 251.33 285.16 252 285.04 C252.67 284.92 253.33 284.8 254 284.68 C254.67 284.56 255.33 284.44 256 284.31 C256.67 284.19 257.33 284.07 258 283.94 C258.67 283.81 259.33 283.68 260 283.54 C260.67 283.4 261.33 283.26 262 283.12 C262.67 282.97 263.33 282.82 264 282.67 C264.67 282.52 265.33 282.37 266 282.22 C266.67 282.06 267.33 281.91 268 281.75 C268.67 281.59 269.33 281.44 270 281.28 C270.67 281.12 271.33 280.95 272 280.79 C272.67 280.63 273.33 280.46 274 280.3 C274.67 280.14 275.33 279.97 276 279.81 C276.67 279.65 277.33 279.49 278 279.34 C278.67 279.18 279.33 279.03 280 278.88 C280.67 278.73 281.33 278.59 282 278.44 C282.67 278.3 283.33 278.15 284 278 C284.67 277.85 285.33 277.7 286 277.53 C286.67 277.36 287.33 277.19 288 277 C288.67 276.81 289.33 276.61 290 276.41 C290.67 276.2 291.33 275.99 292 275.78 C292.67 275.58 293.33 275.37 294 275.19 C294.67 275.01 295.33 274.84 296 274.7 C296.67 274.56 297.33 274.45 298 274.35 C298.67 274.26 299.33 274.19 300 274.13 C300.67 274.07 301.33 274.03 302 273.98 C302.67 273.94 303.33 273.9 304 273.87 C304.67 273.83 305.33 273.8 306 273.76 C306.67 273.73 307.33 273.7 308 273.66 C308.67 273.63 309.33 273.6 310 273.57 C310.67 273.53 311.33 273.49 312 273.45 C312.67 273.41 313.33 273.37 314 273.32 C314.67 273.27 315.33 273.21 316 273.15 C316.67 273.09 317.33 273.03 318 272.96 C318.67 272.89 319.33 272.82 320 272.74 C320.67 272.66 321.33 272.57 322 272.48 C322.67 272.39 323.33 272.29 324 272.18 C324.67 272.08 325.33 271.96 326 271.85 C326.67 271.75 327.33 271.63 328 271.53 C328.67 271.42 329.33 271.32 330 271.24 C330.67 271.15 331.33 271.07 332 271 C332.67 270.93 333.33 270.88 334 270.82 C334.67 270.76 335.33 270.71 336 270.66 C336.67 270.61 337.33 270.56 338 270.51 C338.67 270.46 339.33 270.41 340 270.36 C340.67 270.31 341.33 270.26 342 270.2 C342.67 270.15 343.33 270.09 344 270.03 C344.67 269.96 345.33 269.89 346 269.81 C346.67 269.72 347.33 269.62 348 269.51 C348.67 269.39 349.33 269.26 350 269.12 C350.67 268.97 351.33 268.82 352 268.66 C352.67 268.5 353.33 268.34 354 268.17 C354.67 268.01 355.33 267.84 356 267.67 C356.67 267.5 357.33 267.34 358 267.17 C358.67 267 359.33 266.83 360 266.66 C360.67 266.49 361.33 266.32 362 266.15 C362.67 265.97 363.33 265.8 364 265.62 C364.67 265.44 365.33 265.26 366 265.07 C366.67 264.89 367.33 264.69 368 264.5 C368.67 264.31 369.33 264.11 370 263.91 C370.67 263.71 371.33 263.51 372 263.3 C372.67 263.1 373.33 262.88 374 262.67 C374.67 262.45 375.33 262.23 376 262 C376.67 261.78 377.33 261.54 378 261.31 C378.67 261.08 379.33 260.84 380 260.6 C380.67 260.36 381.33 260.11 382 259.87 C382.67 259.62 383.33 259.36 384 259.11 C384.67 258.85 385.33 258.59 386 258.32 C386.67 258.06 387.33 257.79 388 257.53 C388.67 257.26 389.33 257 390 256.73 C390.67 256.47 391.33 256.21 392 255.95 C392.67 255.7 393.33 255.44 394 255.19 C394.67 254.95 395.33 254.7 396 254.46 C396.67 254.22 397.33 253.99 398 253.75 C398.67 253.51 399.33 253.27 400 253.03 C400.67 252.78 401.33 252.53 402 252.27 C402.67 252 403.33 251.73 404 251.45 C404.67 251.17 405.33 250.88 406 250.59 C406.67 250.3 407.33 250 408 249.71 C408.67 249.41 409.33 249.11 410 248.82 C410.67 248.53 411.33 248.25 412 247.96 C412.67 247.68 413.33 247.4 414 247.13 C414.67 246.85 415.33 246.58 416 246.31 C416.67 246.03 417.33 245.76 418 245.49 C418.67 245.21 419.33 244.93 420 244.65 C420.67 244.37 421.33 244.08 422 243.79 C422.67 243.5 423.33 243.21 424 242.91 C424.67 242.62 425.33 242.32 426 242.01 C426.67 241.7 427.33 241.39 428 241.07 C428.67 240.75 429.33 240.41 430 240.08 C430.67 239.74 431.33 239.39 432 239.03 C432.67 238.68 433.33 238.32 434 237.97 C434.67 237.61 435.33 237.25 436 236.89 C436.67 236.52 437.33 236.17 438 235.77 C438.67 235.37 439.33 234.97 440 234.49 C440.67 234.02 441.33 233.5 442 232.91 C442.67 232.32 443.33 231.65 444 230.94 C444.67 230.22 445.33 229.44 446 228.62 C446.67 227.81 447.33 226.94 448 226.06 C448.67 225.17 449.33 224.25 450 223.31 C450.67 222.37 451.33 221.4 452 220.41 C452.67 219.43 453.33 218.43 454 217.4 C454.67 216.38 455.33 215.35 456 214.28 C456.67 213.22 457.33 212.14 458 211.02 C458.67 209.91 459.33 208.77 460 207.62 C460.67 206.46 461.33 205.28 462 204.11 C462.67 202.94 463.33 201.76 464 200.59 C464.67 199.42 465.33 198.26 466 197.11 C466.67 195.96 467.33 194.83 468 193.7 C468.67 192.56 469.33 191.44 470 190.29 C470.67 189.13 471.33 187.98 472 186.77 C472.67 185.55 473.33 184.3 474 183 C474.67 181.71 475.33 180.35 476 178.98 C476.67 177.6 477.33 176.18 478 174.76 C478.67 173.34 479.33 171.89 480 170.45 C480.67 169.01 481.33 167.56 482 166.11 C482.67 164.67 483.33 163.22 484 161.78 C484.67 160.34 485.33 158.89 486 157.46 C486.67 156.03 487.33 154.6 488 153.2 C488.67 151.79 489.33 150.39 490 149.01 C490.67 147.63 491.33 146.28 492 144.91 C492.67 143.55 493.33 142.2 494 140.82 C494.67 139.44 495.33 138.06 496 136.63 C496.67 135.19 497.33 133.72 498 132.22 C498.67 130.71 499.33 129.15 500 127.59 C500.67 126.02 501.33 124.41 502 122.81 C502.67 121.2 503.33 119.58 504 117.97 C504.67 116.35 505.33 114.72 506 113.11 C506.67 111.49 507.33 109.87 508 108.27 C508.67 106.67 509.33 105.06 510 103.51 C510.67 101.96 511.33 100.42 512 98.95 C512.67 97.49 513.33 96.08 514 94.73 C514.67 93.38 515.33 92.11 516 90.87 C516.67 89.63 517.33 88.45 518 87.27 C518.67 86.09 519.33 84.95 520 83.81 C520.67 82.68 521.33 81.55 522 80.45 C522.67 79.35 523.33 78.27 524 77.23 C524.67 76.19 525.33 75.19 526 74.22 C526.67 73.25 527.33 72.32 528 71.41 C528.67 70.49 529.33 69.61 530 68.73 C530.67 67.85 531.33 66.99 532 66.13 C532.67 65.28 533.33 64.43 534 63.6 C534.67 62.78 535.33 61.96 536 61.18 C536.67 60.4 537.33 59.64 538 58.91 C538.67 58.18 539.33 57.48 540 56.79 C540.67 56.1 541.33 55.43 542 54.77 C542.67 54.1 543.33 53.44 544 52.8 C544.67 52.15 545.33 51.51 546 50.91 C546.67 50.3 547.33 49.71 548 49.15 C548.67 48.59 549.33 48.07 550 47.57 C550.67 47.07 551.33 46.61 552 46.15 C552.67 45.7 553.33 45.26 554 44.83 C554.67 44.4 555.33 43.98 556 43.57 C556.67 43.16 557.33 42.75 558 42.38 C558.67 42 559.33 41.64 560 41.32 C560.67 40.99 561.33 40.69 562 40.42 C562.67 40.15 563.33 39.9 564 39.68 C564.67 39.47 565.33 39.26 566 39.12 C566.67 38.98 567.33 38.87 568 38.85 C568.67 38.84 569.33 38.89 570 39.02 C570.67 39.16 571.33 39.4 572 39.67 C572.67 39.94 573.33 40.3 574 40.65 C574.67 41.01 575.33 41.41 576 41.81 C576.67 42.2 577.33 42.61 578 43.04 C578.67 43.46 579.33 43.89 580 44.33 C580.67 44.78 581.33 45.24 582 45.72 C582.67 46.2 583.33 46.69 584 47.21 C584.67 47.72 585.33 48.24 586 48.81 C586.67 49.37 587.33 49.94 588 50.59 C588.67 51.24 589.33 51.92 590 52.69 C590.67 53.45 591.33 54.29 592 55.18 C592.67 56.06 593.33 57.03 594 58 C594.67 58.97 595.33 59.99 596 61 C596.67 62.01 597.33 63.04 598 64.06 C598.67 65.08 599.33 66.1 600 67.12 C600.67 68.13 601.33 69.14 602 70.14 C602.67 71.14 603.33 72.14 604 73.14 C604.67 74.13 605.33 75.12 606 76.12 C606.67 77.11 607.33 78.1 608 79.1 C608.67 80.09 609.33 81.08 610 82.08 C610.67 83.08 611.33 84.08 612 85.08 C612.67 86.08 613.33 87.08 614 88.08 C614.67 89.09 615.33 90.09 616 91.09 C616.67 92.09 617.33 93.1 618 94.08 C618.67 95.07 619.33 96.06 620 97.02 C620.67 97.98 621.33 98.93 622 99.86 C622.67 100.79 623.33 101.69 624 102.58 C624.67 103.47 625.33 104.34 626 105.21 C626.67 106.07 627.33 106.93 628 107.78 C628.67 108.64 629.33 109.49 630 110.34 C630.67 111.19 631.33 112.04 632 112.89 C632.67 113.74 633.33 114.59 634 115.43 C634.67 116.28 635.33 117.12 636 117.96 C636.67 118.8 637.33 119.64 638 120.47 C638.67 121.3 639.33 122.14 640 122.97 C640.67 123.8 641.33 124.63 642 125.45 C642.67 126.28 643.33 127.11 644 127.91 C644.67 128.71 645.33 129.53 646 130.27 C646.67 131.01 647.33 131.74 648 132.35 C648.67 132.96 649.67 133.65 650 133.91" fill="none" stroke="#C00000" stroke-width="2.2" stroke-dasharray="3.6 3.75" stroke-linecap="round"/>
<path d="M96 326.3 C96.33 326.26 97.33 326.17 98 326.08 C98.67 326 99.33 325.9 100 325.8 C100.67 325.7 101.33 325.59 102 325.48 C102.67 325.37 103.33 325.26 104 325.14 C104.67 325.03 105.33 324.92 106 324.81 C106.67 324.69 107.33 324.58 108 324.47 C108.67 324.35 109.33 324.24 110 324.13 C110.67 324.01 111.33 323.9 112 323.79 C112.67 323.68 113.33 323.56 114 323.45 C114.67 323.34 115.33 323.22 116 323.11 C116.67 323 117.33 322.88 118 322.77 C118.67 322.66 119.33 322.55 120 322.43 C120.67 322.32 121.33 322.21 122 322.09 C122.67 321.98 123.33 321.87 124 321.75 C124.67 321.64 125.33 321.53 126 321.42 C126.67 321.3 127.33 321.19 128 321.08 C128.67 320.96 129.33 320.85 130 320.74 C130.67 320.62 131.33 320.51 132 320.4 C132.67 320.29 133.33 320.17 134 320.06 C134.67 319.95 135.33 319.83 136 319.72 C136.67 319.61 137.33 319.49 138 319.38 C138.67 319.27 139.33 319.16 140 319.04 C140.67 318.93 141.33 318.82 142 318.7 C142.67 318.59 143.33 318.48 144 318.36 C144.67 318.25 145.33 318.14 146 318.03 C146.67 317.91 147.33 317.8 148 317.69 C148.67 317.57 149.33 317.46 150 317.34 C150.67 317.23 151.33 317.12 152 317 C152.67 316.88 153.33 316.76 154 316.64 C154.67 316.51 155.33 316.39 156 316.26 C156.67 316.13 157.33 315.99 158 315.85 C158.67 315.72 159.33 315.58 160 315.44 C160.67 315.3 161.33 315.16 162 315.02 C162.67 314.87 163.33 314.73 164 314.59 C164.67 314.45 165.33 314.31 166 314.17 C166.67 314.03 167.33 313.89 168 313.74 C168.67 313.6 169.33 313.46 170 313.32 C170.67 313.18 171.33 313.04 172 312.9 C172.67 312.75 173.33 312.61 174 312.47 C174.67 312.33 175.33 312.19 176 312.05 C176.67 311.91 177.33 311.77 178 311.63 C178.67 311.49 179.33 311.35 180 311.21 C180.67 311.07 181.33 310.94 182 310.8 C182.67 310.66 183.33 310.53 184 310.39 C184.67 310.26 185.33 310.12 186 309.99 C186.67 309.85 187.33 309.72 188 309.58 C188.67 309.44 189.33 309.31 190 309.18 C190.67 309.04 191.33 308.91 192 308.77 C192.67 308.63 193.33 308.5 194 308.37 C194.67 308.23 195.33 308.1 196 307.96 C196.67 307.83 197.33 307.69 198 307.56 C198.67 307.42 199.33 307.29 200 307.15 C200.67 307.02 201.33 306.88 202 306.75 C202.67 306.61 203.33 306.47 204 306.34 C204.67 306.2 205.33 306.07 206 305.94 C206.67 305.8 207.33 305.66 208 305.53 C208.67 305.39 209.33 305.26 210 305.12 C210.67 304.99 211.33 304.86 212 304.72 C212.67 304.59 213.33 304.45 214 304.32 C214.67 304.18 215.33 304.04 216 303.91 C216.67 303.77 217.33 303.64 218 303.51 C218.67 303.37 219.33 303.24 220 303.1 C220.67 302.97 221.33 302.83 222 302.69 C222.67 302.56 223.33 302.43 224 302.29 C224.67 302.16 225.33 302.02 226 301.88 C226.67 301.75 227.33 301.62 228 301.48 C228.67 301.35 229.33 301.21 230 301.07 C230.67 300.94 231.33 300.81 232 300.67 C232.67 300.54 233.33 300.4 234 300.27 C234.67 300.13 235.33 300 236 299.86 C236.67 299.73 237.33 299.59 238 299.46 C238.67 299.32 239.33 299.18 240 299.05 C240.67 298.91 241.33 298.78 242 298.64 C242.67 298.51 243.33 298.38 244 298.24 C244.67 298.11 245.33 297.97 246 297.84 C246.67 297.7 247.33 297.57 248 297.43 C248.67 297.29 249.33 297.16 250 297.02 C250.67 296.89 251.33 296.76 252 296.62 C252.67 296.48 253.33 296.35 254 296.21 C254.67 296.08 255.33 295.94 256 295.81 C256.67 295.67 257.33 295.53 258 295.39 C258.67 295.25 259.33 295.11 260 294.97 C260.67 294.82 261.33 294.68 262 294.53 C262.67 294.38 263.33 294.23 264 294.08 C264.67 293.93 265.33 293.78 266 293.63 C266.67 293.49 267.33 293.34 268 293.21 C268.67 293.07 269.33 292.94 270 292.82 C270.67 292.71 271.33 292.6 272 292.5 C272.67 292.39 273.33 292.3 274 292.21 C274.67 292.12 275.33 292.03 276 291.95 C276.67 291.86 277.33 291.78 278 291.69 C278.67 291.61 279.33 291.53 280 291.44 C280.67 291.36 281.33 291.27 282 291.19 C282.67 291.1 283.33 291.02 284 290.93 C284.67 290.84 285.33 290.74 286 290.64 C286.67 290.54 287.33 290.44 288 290.33 C288.67 290.22 289.33 290.1 290 289.97 C290.67 289.85 291.33 289.72 292 289.59 C292.67 289.46 293.33 289.33 294 289.2 C294.67 289.07 295.33 288.93 296 288.8 C296.67 288.67 297.33 288.53 298 288.4 C298.67 288.27 299.33 288.13 300 288 C300.67 287.87 301.33 287.74 302 287.61 C302.67 287.48 303.33 287.35 304 287.22 C304.67 287.09 305.33 286.97 306 286.84 C306.67 286.72 307.33 286.6 308 286.48 C308.67 286.36 309.33 286.24 310 286.12 C310.67 286 311.33 285.88 312 285.77 C312.67 285.65 313.33 285.53 314 285.41 C314.67 285.3 315.33 285.18 316 285.06 C316.67 284.95 317.33 284.83 318 284.71 C318.67 284.6 319.33 284.48 320 284.37 C320.67 284.26 321.33 284.15 322 284.05 C322.67 283.95 323.33 283.85 324 283.75 C324.67 283.65 325.33 283.56 326 283.47 C326.67 283.38 327.33 283.3 328 283.21 C328.67 283.12 329.33 283.04 330 282.95 C330.67 282.86 331.33 282.78 332 282.69 C332.67 282.61 333.33 282.52 334 282.43 C334.67 282.35 335.33 282.26 336 282.18 C336.67 282.09 337.33 282.01 338 281.92 C338.67 281.84 339.33 281.75 340 281.66 C340.67 281.58 341.33 281.49 342 281.4 C342.67 281.31 343.33 281.23 344 281.13 C344.67 281.04 345.33 280.94 346 280.84 C346.67 280.73 347.33 280.62 348 280.5 C348.67 280.38 349.33 280.25 350 280.11 C350.67 279.98 351.33 279.83 352 279.69 C352.67 279.55 353.33 279.4 354 279.25 C354.67 279.1 355.33 278.95 356 278.81 C356.67 278.66 357.33 278.51 358 278.36 C358.67 278.21 359.33 278.06 360 277.91 C360.67 277.76 361.33 277.61 362 277.46 C362.67 277.31 363.33 277.16 364 277 C364.67 276.85 365.33 276.69 366 276.53 C366.67 276.37 367.33 276.21 368 276.04 C368.67 275.88 369.33 275.71 370 275.55 C370.67 275.38 371.33 275.22 372 275.05 C372.67 274.88 373.33 274.72 374 274.55 C374.67 274.38 375.33 274.22 376 274.05 C376.67 273.88 377.33 273.71 378 273.54 C378.67 273.36 379.33 273.19 380 273 C380.67 272.81 381.33 272.62 382 272.41 C382.67 272.2 383.33 271.98 384 271.74 C384.67 271.51 385.33 271.26 386 271 C386.67 270.75 387.33 270.49 388 270.22 C388.67 269.96 389.33 269.69 390 269.42 C390.67 269.16 391.33 268.89 392 268.62 C392.67 268.35 393.33 268.09 394 267.82 C394.67 267.55 395.33 267.28 396 267.01 C396.67 266.74 397.33 266.47 398 266.2 C398.67 265.92 399.33 265.65 400 265.36 C400.67 265.08 401.33 264.79 402 264.48 C402.67 264.18 403.33 263.86 404 263.54 C404.67 263.21 405.33 262.88 406 262.54 C406.67 262.2 407.33 261.85 408 261.5 C408.67 261.16 409.33 260.81 410 260.46 C410.67 260.11 411.33 259.76 412 259.41 C412.67 259.06 413.33 258.7 414 258.35 C414.67 258 415.33 257.65 416 257.3 C416.67 256.95 417.33 256.6 418 256.25 C418.67 255.9 419.33 255.55 420 255.2 C420.67 254.85 421.33 254.5 422 254.16 C422.67 253.81 423.33 253.46 424 253.11 C424.67 252.76 425.33 252.41 426 252.06 C426.67 251.72 427.33 251.37 428 251.02 C428.67 250.67 429.33 250.32 430 249.97 C430.67 249.62 431.33 249.28 432 248.92 C432.67 248.57 433.33 248.22 434 247.87 C434.67 247.51 435.33 247.16 436 246.8 C436.67 246.43 437.33 246.06 438 245.69 C438.67 245.32 439.33 244.93 440 244.55 C440.67 244.17 441.33 243.78 442 243.39 C442.67 243.01 443.33 242.62 444 242.24 C444.67 241.86 445.33 241.49 446 241.12 C446.67 240.75 447.33 240.38 448 240.02 C448.67 239.66 449.33 239.3 450 238.95 C450.67 238.59 451.33 238.24 452 237.88 C452.67 237.52 453.33 237.17 454 236.8 C454.67 236.44 455.33 236.07 456 235.68 C456.67 235.3 457.33 234.9 458 234.47 C458.67 234.04 459.33 233.58 460 233.09 C460.67 232.6 461.33 232.08 462 231.54 C462.67 231 463.33 230.44 464 229.86 C464.67 229.29 465.33 228.71 466 228.12 C466.67 227.53 467.33 226.93 468 226.33 C468.67 225.73 469.33 225.13 470 224.51 C470.67 223.9 471.33 223.28 472 222.64 C472.67 222 473.33 221.34 474 220.65 C474.67 219.96 475.33 219.24 476 218.49 C476.67 217.73 477.33 216.94 478 216.11 C478.67 215.28 479.33 214.42 480 213.5 C480.67 212.57 481.33 211.61 482 210.58 C482.67 209.55 483.33 208.46 484 207.32 C484.67 206.18 485.33 204.98 486 203.74 C486.67 202.51 487.33 201.22 488 199.9 C488.67 198.58 489.33 197.22 490 195.8 C490.67 194.39 491.33 192.94 492 191.43 C492.67 189.91 493.33 188.34 494 186.7 C494.67 185.06 495.33 183.34 496 181.58 C496.67 179.83 497.33 177.99 498 176.16 C498.67 174.32 499.33 172.43 500 170.57 C500.67 168.71 501.33 166.83 502 164.98 C502.67 163.13 503.33 161.29 504 159.48 C504.67 157.67 505.33 155.89 506 154.13 C506.67 152.36 507.33 150.63 508 148.89 C508.67 147.16 509.33 145.44 510 143.72 C510.67 141.99 511.33 140.27 512 138.55 C512.67 136.82 513.33 135.09 514 133.35 C514.67 131.61 515.33 129.87 516 128.12 C516.67 126.37 517.33 124.61 518 122.87 C518.67 121.12 519.33 119.36 520 117.64 C520.67 115.91 521.33 114.18 522 112.52 C522.67 110.86 523.33 109.23 524 107.68 C524.67 106.13 525.33 104.66 526 103.25 C526.67 101.84 527.33 100.52 528 99.23 C528.67 97.93 529.33 96.71 530 95.48 C530.67 94.26 531.33 93.07 532 91.89 C532.67 90.71 533.33 89.54 534 88.43 C534.67 87.31 535.33 86.21 536 85.18 C536.67 84.15 537.33 83.17 538 82.24 C538.67 81.3 539.33 80.43 540 79.58 C540.67 78.72 541.33 77.9 542 77.09 C542.67 76.28 543.33 75.49 544 74.72 C544.67 73.94 545.33 73.17 546 72.45 C546.67 71.73 547.33 71.03 548 70.38 C548.67 69.73 549.33 69.13 550 68.56 C550.67 67.99 551.33 67.47 552 66.96 C552.67 66.45 553.33 65.98 554 65.5 C554.67 65.03 555.33 64.57 556 64.14 C556.67 63.7 557.33 63.27 558 62.89 C558.67 62.51 559.33 62.15 560 61.85 C560.67 61.55 561.33 61.29 562 61.07 C562.67 60.84 563.33 60.67 564 60.5 C564.67 60.34 565.33 60.2 566 60.07 C566.67 59.94 567.33 59.81 568 59.71 C568.67 59.62 569.33 59.53 570 59.48 C570.67 59.43 571.33 59.42 572 59.44 C572.67 59.47 573.33 59.54 574 59.64 C574.67 59.74 575.33 59.87 576 60.04 C576.67 60.21 577.33 60.39 578 60.63 C578.67 60.87 579.33 61.14 580 61.48 C580.67 61.82 581.33 62.22 582 62.68 C582.67 63.13 583.33 63.66 584 64.22 C584.67 64.78 585.33 65.39 586 66.04 C586.67 66.68 587.33 67.35 588 68.07 C588.67 68.79 589.33 69.55 590 70.37 C590.67 71.2 591.33 72.08 592 72.99 C592.67 73.91 593.33 74.89 594 75.88 C594.67 76.87 595.33 77.89 596 78.92 C596.67 79.95 597.33 81 598 82.06 C598.67 83.11 599.33 84.19 600 85.28 C600.67 86.37 601.33 87.48 602 88.6 C602.67 89.72 603.33 90.86 604 92 C604.67 93.15 605.33 94.3 606 95.45 C606.67 96.59 607.33 97.74 608 98.88 C608.67 100.01 609.33 101.14 610 102.27 C610.67 103.39 611.33 104.51 612 105.62 C612.67 106.74 613.33 107.85 614 108.95 C614.67 110.06 615.33 111.17 616 112.28 C616.67 113.38 617.33 114.49 618 115.59 C618.67 116.7 619.33 117.81 620 118.91 C620.67 120.02 621.33 121.12 622 122.23 C622.67 123.34 623.33 124.44 624 125.55 C624.67 126.66 625.33 127.76 626 128.87 C626.67 129.98 627.33 131.09 628 132.21 C628.67 133.33 629.33 134.45 630 135.57 C630.67 136.7 631.33 137.83 632 138.97 C632.67 140.1 633.33 141.25 634 142.39 C634.67 143.53 635.33 144.68 636 145.82 C636.67 146.97 637.33 148.11 638 149.26 C638.67 150.41 639.33 151.55 640 152.7 C640.67 153.85 641.33 154.99 642 156.13 C642.67 157.27 643.33 158.43 644 159.54 C644.67 160.65 645.33 161.78 646 162.8 C646.67 163.83 647.33 164.84 648 165.68 C648.67 166.52 649.67 167.48 650 167.84" fill="none" stroke="#C00000" stroke-width="2.2" stroke-dasharray="3.6 3.75" stroke-linecap="round"/>
<circle cx="96.26" cy="327.3" r="2.8" fill="#000"/>
<circle cx="102.35" cy="330.4" r="2.8" fill="#000"/>
<circle cx="108.44" cy="317" r="2.8" fill="#000"/>
<circle cx="114.52" cy="326.2" r="2.8" fill="#000"/>
<circle cx="120.61" cy="310.2" r="2.8" fill="#000"/>
<circle cx="126.7" cy="313.5" r="2.8" fill="#000"/>
<circle cx="132.79" cy="307.8" r="2.8" fill="#000"/>
<circle cx="138.88" cy="319.4" r="2.8" fill="#000"/>
<circle cx="144.96" cy="322.7" r="2.8" fill="#000"/>
<circle cx="151.05" cy="307.5" r="2.8" fill="#000"/>
<circle cx="157.14" cy="305.2" r="2.8" fill="#000"/>
<circle cx="163.23" cy="296.6" r="2.8" fill="#000"/>
<circle cx="169.31" cy="299.3" r="2.8" fill="#000"/>
<circle cx="175.4" cy="301.4" r="2.8" fill="#000"/>
<circle cx="181.49" cy="311.7" r="2.8" fill="#000"/>
<circle cx="187.58" cy="319.3" r="2.8" fill="#000"/>
<circle cx="193.67" cy="307.3" r="2.8" fill="#000"/>
<circle cx="199.75" cy="286.5" r="2.8" fill="#000"/>
<circle cx="205.84" cy="281.5" r="2.8" fill="#000"/>
<circle cx="211.93" cy="282.6" r="2.8" fill="#000"/>
<circle cx="218.02" cy="280.3" r="2.8" fill="#000"/>
<circle cx="224.11" cy="296.7" r="2.8" fill="#000"/>
<circle cx="230.19" cy="305.2" r="2.8" fill="#000"/>
<circle cx="236.28" cy="319.1" r="2.8" fill="#000"/>
<circle cx="242.37" cy="295.7" r="2.8" fill="#000"/>
<circle cx="248.46" cy="287.2" r="2.8" fill="#000"/>
<circle cx="254.54" cy="277.3" r="2.8" fill="#000"/>
<circle cx="260.63" cy="278.1" r="2.8" fill="#000"/>
<circle cx="266.72" cy="293.7" r="2.8" fill="#000"/>
<circle cx="272.81" cy="305.7" r="2.8" fill="#000"/>
<circle cx="278.9" cy="299.4" r="2.8" fill="#000"/>
<circle cx="284.98" cy="284.9" r="2.8" fill="#000"/>
<circle cx="291.07" cy="281.3" r="2.8" fill="#000"/>
<circle cx="297.16" cy="289.2" r="2.8" fill="#000"/>
<circle cx="303.25" cy="275.7" r="2.8" fill="#000"/>
<circle cx="309.34" cy="304" r="2.8" fill="#000"/>
<circle cx="315.42" cy="306.9" r="2.8" fill="#000"/>
<circle cx="321.51" cy="301.1" r="2.8" fill="#000"/>
<circle cx="327.6" cy="277" r="2.8" fill="#000"/>
<circle cx="333.69" cy="274" r="2.8" fill="#000"/>
<circle cx="339.77" cy="274.4" r="2.8" fill="#000"/>
<circle cx="345.86" cy="271.4" r="2.8" fill="#000"/>
<circle cx="351.95" cy="286.9" r="2.8" fill="#000"/>
<circle cx="358.04" cy="306.5" r="2.8" fill="#000"/>
<circle cx="364.13" cy="289.5" r="2.8" fill="#000"/>
<circle cx="370.21" cy="265.2" r="2.8" fill="#000"/>
<circle cx="376.3" cy="249.4" r="2.8" fill="#000"/>
<circle cx="382.39" cy="267.2" r="2.8" fill="#000"/>
<circle cx="388.48" cy="258.9" r="2.8" fill="#000"/>
<circle cx="394.56" cy="278.7" r="2.8" fill="#000"/>
<circle cx="400.65" cy="296.1" r="2.8" fill="#000"/>
<circle cx="406.74" cy="277.3" r="2.8" fill="#000"/>
<circle cx="412.83" cy="256.3" r="2.8" fill="#000"/>
<circle cx="418.92" cy="241.5" r="2.8" fill="#000"/>
<circle cx="425" cy="242.2" r="2.8" fill="#000"/>
<circle cx="431.09" cy="234.9" r="2.8" fill="#000"/>
<circle cx="437.18" cy="262" r="2.8" fill="#000"/>
<circle cx="443.27" cy="285.8" r="2.8" fill="#000"/>
<circle cx="449.36" cy="244.5" r="2.8" fill="#000"/>
<circle cx="455.44" cy="234.4" r="2.8" fill="#000"/>
<circle cx="461.53" cy="191.3" r="2.8" fill="#000"/>
<circle cx="467.62" cy="252.8" r="2.8" fill="#000"/>
<circle cx="473.71" cy="248.7" r="2.8" fill="#000"/>
<circle cx="479.8" cy="249.1" r="2.8" fill="#000"/>
<circle cx="485.88" cy="240.4" r="2.8" fill="#000"/>
<circle cx="491.97" cy="195.3" r="2.8" fill="#000"/>
<circle cx="498.06" cy="159.7" r="2.8" fill="#000"/>
<circle cx="504.15" cy="62.8" r="2.8" fill="#000"/>
<circle cx="510.23" cy="69.4" r="2.8" fill="#000"/>
<circle cx="516.32" cy="83.2" r="2.8" fill="#000"/>
<circle cx="522.41" cy="174" r="2.8" fill="#000"/>
<circle cx="528.5" cy="202.3" r="2.8" fill="#000"/>
<circle cx="534.59" cy="227.3" r="2.8" fill="#000"/>
<circle cx="540.67" cy="177.3" r="2.8" fill="#000"/>
<circle cx="546.76" cy="169" r="2.8" fill="#000"/>
<circle cx="552.85" cy="115.3" r="2.8" fill="#000"/>
<circle cx="558.94" cy="137.8" r="2.8" fill="#000"/>
<circle cx="565.03" cy="164.6" r="2.8" fill="#000"/>
<circle cx="571.11" cy="206" r="2.8" fill="#000"/>
<circle cx="577.2" cy="202" r="2.8" fill="#000"/>
<circle cx="583.29" cy="198.3" r="2.8" fill="#000"/>
<circle cx="589.38" cy="176.8" r="2.8" fill="#000"/>
<circle cx="595.46" cy="209.8" r="2.8" fill="#000"/>
<circle cx="601.55" cy="221.4" r="2.8" fill="#000"/>
<circle cx="607.64" cy="231.2" r="2.8" fill="#000"/>
<circle cx="613.73" cy="271.7" r="2.8" fill="#000"/>
<circle cx="619.82" cy="226.6" r="2.8" fill="#000"/>
<circle cx="625.9" cy="232.6" r="2.8" fill="#000"/>
<circle cx="631.99" cy="222.7" r="2.8" fill="#000"/>
<circle cx="638.08" cy="244.1" r="2.8" fill="#000"/>
<circle cx="644.17" cy="255.2" r="2.8" fill="#000"/>
<circle cx="650.25" cy="270.4" r="2.8" fill="#000"/>
<rect x="96" y="10.5" width="554" height="329" fill="none" stroke="#000" stroke-width="2"/>
<line x1="97" y1="459.33" x2="650" y2="459.33" stroke="#D9D9D9" stroke-width="1.6"/>
<line x1="97" y1="506.66" x2="650" y2="506.66" stroke="#D9D9D9" stroke-width="1.6"/>
<line x1="97" y1="553.99" x2="650" y2="553.99" stroke="#D9D9D9" stroke-width="1.6"/>
<line x1="97" y1="601.31" x2="650" y2="601.31" stroke="#D9D9D9" stroke-width="1.6"/>
<line x1="97" y1="648.64" x2="650" y2="648.64" stroke="#D9D9D9" stroke-width="1.6"/>
<line x1="97" y1="695.97" x2="650" y2="695.97" stroke="#D9D9D9" stroke-width="1.6"/>
<line x1="188.47" y1="412" x2="188.47" y2="743.3" stroke="#D9D9D9" stroke-width="1.6"/>
<line x1="279.99" y1="412" x2="279.99" y2="743.3" stroke="#D9D9D9" stroke-width="1.6"/>
<line x1="371.51" y1="412" x2="371.51" y2="743.3" stroke="#D9D9D9" stroke-width="1.6"/>
<line x1="463.03" y1="412" x2="463.03" y2="743.3" stroke="#D9D9D9" stroke-width="1.6"/>
<line x1="554.55" y1="412" x2="554.55" y2="743.3" stroke="#D9D9D9" stroke-width="1.6"/>
<line x1="646.07" y1="412" x2="646.07" y2="743.3" stroke="#D9D9D9" stroke-width="1.6"/>
<text x="80.6" y="749.2" text-anchor="end" class="t">0</text>
<text x="80.6" y="701.87" text-anchor="end" class="t">200</text>
<text x="80.6" y="654.54" text-anchor="end" class="t">400</text>
<text x="80.6" y="607.21" text-anchor="end" class="t">600</text>
<text x="80.6" y="559.89" text-anchor="end" class="t">800</text>
<text x="80.6" y="512.56" text-anchor="end" class="t">1000</text>
<text x="80.6" y="465.23" text-anchor="end" class="t">1200</text>
<text x="80.6" y="417.9" text-anchor="end" class="t">1400</text>
<text x="96.95" y="772" text-anchor="middle" class="t">1-Mar-21</text>
<text x="188.47" y="772" text-anchor="middle" class="t">21-Mar-21</text>
<text x="279.99" y="772" text-anchor="middle" class="t">10-Apr-21</text>
<text x="371.51" y="772" text-anchor="middle" class="t">30-Apr-21</text>
<text x="463.03" y="772" text-anchor="middle" class="t">20-May-21</text>
<text x="554.55" y="772" text-anchor="middle" class="t">9-Jun-21</text>
<text x="646.07" y="772" text-anchor="middle" class="t">29-Jun-21</text>
<text transform="translate(20.7,563.7) rotate(-90)" text-anchor="middle" class="ti">New daily positive cases</text>
<text x="105" y="440.2" class="lb">(b)</text>
<path d="M107.3 682.33 C107.63 682.27 108.64 682.13 109.3 682.02 C109.97 681.91 110.64 681.77 111.31 681.64 C111.97 681.52 112.64 681.39 113.31 681.26 C113.98 681.14 114.64 681.01 115.31 680.89 C115.98 680.76 116.65 680.63 117.31 680.51 C117.98 680.38 118.65 680.26 119.32 680.12 C119.98 679.99 120.65 679.85 121.32 679.71 C121.99 679.57 122.65 679.41 123.32 679.27 C123.99 679.12 124.66 678.97 125.32 678.83 C125.99 678.68 126.66 678.53 127.33 678.38 C127.99 678.24 128.66 678.09 129.33 677.94 C130 677.8 130.66 677.65 131.33 677.5 C132 677.35 132.67 677.2 133.33 677.04 C134 676.88 134.67 676.71 135.34 676.55 C136 676.38 136.67 676.21 137.34 676.05 C138.01 675.88 138.67 675.72 139.34 675.55 C140.01 675.39 140.68 675.22 141.34 675.05 C142.01 674.89 142.68 674.72 143.35 674.56 C144.01 674.39 144.68 674.23 145.35 674.06 C146.02 673.89 146.68 673.73 147.35 673.56 C148.02 673.38 148.69 673.2 149.35 673.03 C150.02 672.85 150.69 672.66 151.36 672.48 C152.02 672.3 152.69 672.12 153.36 671.94 C154.03 671.77 154.69 671.59 155.36 671.43 C156.03 671.27 156.7 671.13 157.36 670.99 C158.03 670.84 158.7 670.7 159.37 670.55 C160.03 670.4 160.7 670.26 161.37 670.11 C162.04 669.97 162.7 669.82 163.37 669.68 C164.04 669.53 164.71 669.39 165.37 669.24 C166.04 669.1 166.71 668.95 167.38 668.81 C168.05 668.66 168.71 668.52 169.38 668.37 C170.05 668.23 170.72 668.08 171.38 667.94 C172.05 667.79 172.72 667.65 173.39 667.5 C174.05 667.36 174.72 667.21 175.39 667.07 C176.06 666.92 176.72 666.78 177.39 666.63 C178.06 666.49 178.73 666.34 179.39 666.19 C180.06 666.05 180.73 665.9 181.4 665.76 C182.06 665.61 182.73 665.47 183.4 665.32 C184.07 665.18 184.73 665.03 185.4 664.89 C186.07 664.74 186.74 664.6 187.4 664.45 C188.07 664.31 188.74 664.16 189.41 664.02 C190.07 663.87 190.74 663.73 191.41 663.58 C192.08 663.44 192.74 663.29 193.41 663.15 C194.08 663 194.75 662.86 195.41 662.71 C196.08 662.56 196.75 662.42 197.42 662.27 C198.08 662.12 198.75 661.96 199.42 661.8 C200.09 661.65 200.75 661.49 201.42 661.34 C202.09 661.18 202.76 661.02 203.42 660.87 C204.09 660.71 204.76 660.56 205.43 660.4 C206.09 660.24 206.76 660.09 207.43 659.93 C208.1 659.77 208.76 659.62 209.43 659.46 C210.1 659.31 210.77 659.15 211.43 658.99 C212.1 658.84 212.77 658.69 213.44 658.52 C214.1 658.34 214.77 658.15 215.44 657.95 C216.11 657.75 216.77 657.52 217.44 657.3 C218.11 657.08 218.78 656.86 219.44 656.64 C220.11 656.42 220.78 656.2 221.45 655.97 C222.11 655.75 222.78 655.53 223.45 655.31 C224.12 655.09 224.78 654.87 225.45 654.65 C226.12 654.43 226.79 654.21 227.45 653.99 C228.12 653.77 228.79 653.55 229.46 653.33 C230.13 653.11 230.79 652.89 231.46 652.67 C232.13 652.46 232.8 652.22 233.46 652.04 C234.13 651.86 234.8 651.73 235.47 651.6 C236.13 651.48 236.8 651.39 237.47 651.29 C238.14 651.19 238.8 651.09 239.47 650.99 C240.14 650.89 240.81 650.78 241.47 650.68 C242.14 650.58 242.81 650.48 243.48 650.38 C244.14 650.28 244.81 650.23 245.48 650.07 C246.15 649.9 246.81 649.77 247.48 649.4 C248.15 649.02 248.82 648.38 249.48 647.81 C250.15 647.25 250.82 646.59 251.49 646 C252.15 645.42 252.82 644.78 253.49 644.3 C254.16 643.83 254.82 643.5 255.49 643.14 C256.16 642.78 256.83 642.56 257.49 642.13 C258.16 641.7 258.83 641.13 259.5 640.55 C260.16 639.97 260.83 639.28 261.5 638.65 C262.17 638.02 262.83 637.32 263.5 636.75 C264.17 636.19 264.84 635.65 265.5 635.28 C266.17 634.92 266.84 634.78 267.51 634.56 C268.17 634.34 268.84 634.21 269.51 633.96 C270.18 633.71 270.84 633.46 271.51 633.07 C272.18 632.68 272.85 632.11 273.51 631.61 C274.18 631.11 274.85 630.57 275.52 630.04 C276.18 629.52 276.85 628.99 277.52 628.48 C278.19 627.97 278.85 627.38 279.52 626.98 C280.19 626.59 280.86 626.34 281.52 626.12 C282.19 625.89 282.86 625.94 283.53 625.62 C284.19 625.3 284.86 624.79 285.53 624.19 C286.2 623.59 286.86 622.75 287.53 622.02 C288.2 621.28 288.87 620.59 289.54 619.78 C290.2 618.97 290.87 618.12 291.54 617.16 C292.21 616.21 292.87 615.09 293.54 614.04 C294.21 612.99 294.88 611.86 295.54 610.87 C296.21 609.88 296.88 608.84 297.55 608.1 C298.21 607.36 298.88 606.94 299.55 606.43 C300.22 605.92 300.88 605.51 301.55 605.05 C302.22 604.6 302.89 604.14 303.55 603.68 C304.22 603.22 304.89 602.77 305.56 602.31 C306.22 601.84 306.89 601.41 307.56 600.88 C308.23 600.36 308.89 599.88 309.56 599.15 C310.23 598.41 310.9 597.51 311.56 596.47 C312.23 595.43 312.9 594.11 313.57 592.92 C314.23 591.72 314.9 590.41 315.57 589.31 C316.24 588.2 316.9 587.11 317.57 586.27 C318.24 585.43 318.91 584.92 319.57 584.29 C320.24 583.66 320.91 583.09 321.58 582.5 C322.24 581.91 322.91 581.31 323.58 580.76 C324.25 580.2 324.91 579.69 325.58 579.18 C326.25 578.66 326.92 578.17 327.58 577.66 C328.25 577.16 328.92 576.66 329.59 576.15 C330.25 575.65 330.92 575.14 331.59 574.64 C332.26 574.13 332.92 573.63 333.59 573.12 C334.26 572.62 334.93 572.1 335.59 571.62 C336.26 571.13 336.93 570.65 337.6 570.2 C338.26 569.75 338.93 569.33 339.6 568.9 C340.27 568.47 340.93 568.04 341.6 567.61 C342.27 567.18 342.94 566.75 343.6 566.33 C344.27 565.9 344.94 565.48 345.61 565.04 C346.27 564.59 346.94 564.19 347.61 563.66 C348.28 563.12 348.95 562.47 349.61 561.82 C350.28 561.16 350.95 560.44 351.62 559.74 C352.28 559.05 352.95 558.35 353.62 557.65 C354.29 556.95 354.95 556.24 355.62 555.54 C356.29 554.83 356.96 554.12 357.62 553.42 C358.29 552.71 358.96 552.01 359.63 551.3 C360.29 550.6 360.96 549.91 361.63 549.18 C362.3 548.45 362.96 547.74 363.63 546.9 C364.3 546.06 364.97 545.08 365.63 544.14 C366.3 543.19 366.97 542.19 367.64 541.23 C368.3 540.27 368.97 539.03 369.64 538.38 C370.31 537.74 370.97 537.05 371.64 537.36 C372.31 537.66 372.98 539.13 373.64 540.22 C374.31 541.31 374.98 542.63 375.65 543.89 C376.31 545.16 376.98 546.29 377.65 547.8 C378.32 549.31 378.98 551.13 379.65 552.95 C380.32 554.78 380.99 556.84 381.65 558.77 C382.32 560.69 382.99 563.03 383.66 564.51 C384.32 565.99 384.99 567.51 385.66 567.64 C386.33 567.78 386.99 566.25 387.66 565.33 C388.33 564.42 389 563.05 389.66 562.14 C390.33 561.23 391 560.57 391.67 559.88 C392.33 559.19 393 558.61 393.67 558.02 C394.34 557.44 395 556.86 395.67 556.39 C396.34 555.92 397.01 555.39 397.67 555.2 C398.34 555.02 399.01 554.95 399.68 555.29 C400.34 555.63 401.01 556.83 401.68 557.24 C402.35 557.65 403.01 558.11 403.68 557.75 C404.35 557.39 405.02 556.19 405.68 555.06 C406.35 553.93 407.02 552.62 407.69 550.98 C408.35 549.34 409.02 547.17 409.69 545.21 C410.36 543.25 411.03 541.18 411.69 539.21 C412.36 537.25 413.03 535.35 413.7 533.43 C414.36 531.51 415.03 529.45 415.7 527.71 C416.37 525.96 417.03 523.81 417.7 522.97 C418.37 522.13 419.04 522.42 419.7 522.69 C420.37 522.96 421.04 523.63 421.71 524.61 C422.37 525.59 423.04 526.95 423.71 528.55 C424.38 530.16 425.04 532.23 425.71 534.24 C426.38 536.25 427.05 538.25 427.71 540.63 C428.38 543.02 429.05 546.29 429.72 548.56 C430.38 550.83 431.05 552.86 431.72 554.25 C432.39 555.63 433.05 556.05 433.72 556.87 C434.39 557.7 435.06 558.41 435.72 559.19 C436.39 559.97 437.06 560.73 437.73 561.57 C438.39 562.4 439.06 563.31 439.73 564.2 C440.4 565.1 441.06 566.02 441.73 566.93 C442.4 567.84 443.07 568.75 443.73 569.67 C444.4 570.59 445.07 571.49 445.74 572.44 C446.4 573.39 447.07 574.37 447.74 575.36 C448.41 576.35 449.07 577.36 449.74 578.36 C450.41 579.36 451.08 580.39 451.74 581.37 C452.41 582.34 453.08 583.42 453.75 584.22 C454.41 585.01 455.08 585.58 455.75 586.11 C456.42 586.65 457.08 587.02 457.75 587.44 C458.42 587.86 459.09 588.31 459.75 588.63 C460.42 588.96 461.09 589.15 461.76 589.39 C462.42 589.62 463.09 589.63 463.76 590.02 C464.43 590.42 465.09 590.93 465.76 591.74 C466.43 592.55 467.1 593.84 467.76 594.87 C468.43 595.91 469.1 597.22 469.77 597.96 C470.44 598.7 471.1 599.08 471.77 599.32 C472.44 599.56 473.11 599.33 473.77 599.41 C474.44 599.48 475.11 599.45 475.78 599.75 C476.44 600.05 477.11 600.66 477.78 601.2 C478.45 601.75 479.11 602.42 479.78 603.01 C480.45 603.61 481.12 604.25 481.78 604.76 C482.45 605.28 483.12 605.71 483.79 606.12 C484.45 606.54 485.12 606.88 485.79 607.26 C486.46 607.64 487.12 608.01 487.79 608.39 C488.46 608.76 489.13 609.14 489.79 609.51 C490.46 609.88 491.13 610.29 491.8 610.61 C492.46 610.94 493.13 611.23 493.8 611.47 C494.47 611.72 495.13 611.88 495.8 612.08 C496.47 612.28 497.14 612.47 497.8 612.67 C498.47 612.87 499.14 613 499.81 613.26 C500.47 613.52 501.14 613.66 501.81 614.21 C502.48 614.77 503.14 615.71 503.81 616.6 C504.48 617.49 505.15 618.56 505.81 619.55 C506.48 620.54 507.15 621.53 507.82 622.52 C508.48 623.5 509.15 624.51 509.82 625.48 C510.49 626.46 511.15 627.52 511.82 628.36 C512.49 629.21 513.16 629.92 513.82 630.56 C514.49 631.21 515.16 631.68 515.83 632.23 C516.49 632.78 517.16 633.33 517.83 633.86 C518.5 634.4 519.16 634.93 519.83 635.44 C520.5 635.96 521.17 636.45 521.83 636.96 C522.5 637.46 523.17 637.96 523.84 638.46 C524.5 638.97 525.17 639.47 525.84 639.97 C526.51 640.47 527.17 641 527.84 641.47 C528.51 641.94 529.18 642.42 529.85 642.77 C530.51 643.13 531.18 643.35 531.85 643.6 C532.52 643.86 533.18 644.08 533.85 644.32 C534.52 644.56 535.19 644.8 535.85 645.04 C536.52 645.28 537.19 645.51 537.86 645.78 C538.52 646.05 539.19 646.35 539.86 646.67 C540.53 646.99 541.19 647.36 541.86 647.71 C542.53 648.06 543.2 648.41 543.86 648.76 C544.53 649.12 545.2 649.47 545.87 649.82 C546.53 650.17 547.2 650.55 547.87 650.87 C548.54 651.19 549.2 651.59 549.87 651.71 C550.54 651.83 551.21 651.7 551.87 651.59 C552.54 651.48 553.21 651.16 553.88 651.04 C554.54 650.93 555.21 650.83 555.88 650.9 C556.55 650.97 557.21 651.26 557.88 651.46 C558.55 651.67 559.22 651.91 559.88 652.13 C560.55 652.35 561.22 652.57 561.89 652.8 C562.55 653.02 563.22 653.24 563.89 653.46 C564.56 653.68 565.22 653.95 565.89 654.12 C566.56 654.28 567.23 654.46 567.89 654.46 C568.56 654.45 569.23 654.23 569.9 654.08 C570.56 653.92 571.23 653.72 571.9 653.54 C572.57 653.36 573.23 653.17 573.9 652.99 C574.57 652.81 575.24 652.63 575.9 652.45 C576.57 652.27 577.24 652.08 577.91 651.91 C578.57 651.74 579.24 651.48 579.91 651.43 C580.58 651.39 581.24 651.47 581.91 651.66 C582.58 651.85 583.25 652.31 583.91 652.57 C584.58 652.83 585.25 653.19 585.92 653.22 C586.58 653.24 587.25 652.96 587.92 652.72 C588.59 652.49 589.25 652.13 589.92 651.83 C590.59 651.53 591.26 651.23 591.93 650.93 C592.59 650.63 593.26 650.33 593.93 650.02 C594.6 649.72 595.26 649.42 595.93 649.08 C596.6 648.73 597.27 648.34 597.93 647.95 C598.6 647.56 599.27 647.15 599.94 646.74 C600.6 646.34 601.27 645.94 601.94 645.53 C602.61 645.12 603.27 644.8 603.94 644.29 C604.61 643.78 605.28 643.21 605.94 642.45 C606.61 641.69 607.28 640.63 607.95 639.73 C608.61 638.84 609.28 637.85 609.95 637.08 C610.62 636.31 611.28 635.73 611.95 635.11 C612.62 634.49 613.29 633.94 613.95 633.37 C614.62 632.79 615.29 632.15 615.96 631.64 C616.62 631.13 617.29 630.63 617.96 630.32 C618.63 630.01 619.29 629.98 619.96 629.79 C620.63 629.6 621.3 629.41 621.96 629.18 C622.63 628.95 623.3 628.65 623.97 628.39 C624.63 628.12 625.3 627.85 625.97 627.58 C626.64 627.31 627.3 627.05 627.97 626.78 C628.64 626.5 629.31 626.27 629.97 625.94 C630.64 625.61 631.31 625.22 631.98 624.79 C632.64 624.36 633.31 623.84 633.98 623.35 C634.65 622.87 635.31 622.38 635.98 621.89 C636.65 621.41 637.32 620.92 637.98 620.43 C638.65 619.94 639.32 619.46 639.99 618.97 C640.65 618.48 641.32 618.03 641.99 617.48 C642.66 616.93 643.32 616.33 643.99 615.66 C644.66 615 645.33 614.2 645.99 613.47 C646.66 612.73 647.33 611.88 648 611.25 C648.66 610.62 649.67 609.93 650 609.67" fill="none" stroke="#000" stroke-width="3" stroke-linejoin="round" stroke-linecap="round"/>
<path d="M97 679.4 C97.33 679.43 98.34 679.5 99 679.56 C99.67 679.63 100.34 679.71 101.01 679.79 C101.68 679.87 102.34 679.95 103.01 680.03 C103.68 680.11 104.35 680.2 105.01 680.28 C105.68 680.36 106.35 680.44 107.02 680.52 C107.69 680.6 108.35 680.69 109.02 680.77 C109.69 680.85 110.36 680.93 111.03 681.01 C111.69 681.09 112.36 681.18 113.03 681.26 C113.7 681.34 114.36 681.42 115.03 681.5 C115.7 681.58 116.37 681.66 117.04 681.73 C117.7 681.8 118.37 681.86 119.04 681.92 C119.71 681.98 120.38 682.03 121.04 682.07 C121.71 682.12 122.38 682.16 123.05 682.21 C123.71 682.25 124.38 682.29 125.05 682.34 C125.72 682.38 126.39 682.42 127.05 682.47 C127.72 682.51 128.39 682.55 129.06 682.6 C129.73 682.64 130.39 682.68 131.06 682.72 C131.73 682.77 132.4 682.81 133.07 682.85 C133.73 682.9 134.4 682.94 135.07 682.98 C135.74 683.03 136.4 683.07 137.07 683.11 C137.74 683.16 138.41 683.2 139.08 683.24 C139.74 683.28 140.41 683.33 141.08 683.37 C141.75 683.4 142.42 683.44 143.08 683.44 C143.75 683.45 144.42 683.43 145.09 683.39 C145.75 683.34 146.42 683.25 147.09 683.17 C147.76 683.08 148.43 682.96 149.09 682.86 C149.76 682.75 150.43 682.64 151.1 682.53 C151.77 682.42 152.43 682.31 153.1 682.2 C153.77 682.09 154.44 681.98 155.11 681.87 C155.77 681.76 156.44 681.65 157.11 681.54 C157.78 681.43 158.44 681.32 159.11 681.21 C159.78 681.1 160.45 680.99 161.12 680.88 C161.78 680.77 162.45 680.66 163.12 680.55 C163.79 680.44 164.46 680.33 165.12 680.22 C165.79 680.11 166.46 680 167.13 679.89 C167.79 679.79 168.46 679.68 169.13 679.57 C169.8 679.46 170.47 679.35 171.13 679.24 C171.8 679.13 172.47 679.02 173.14 678.91 C173.81 678.81 174.47 678.7 175.14 678.6 C175.81 678.5 176.48 678.41 177.14 678.31 C177.81 678.22 178.48 678.12 179.15 678.03 C179.82 677.94 180.48 677.85 181.15 677.76 C181.82 677.67 182.49 677.58 183.16 677.48 C183.82 677.39 184.49 677.3 185.16 677.21 C185.83 677.12 186.5 677.03 187.16 676.94 C187.83 676.84 188.5 676.75 189.17 676.66 C189.83 676.57 190.5 676.48 191.17 676.39 C191.84 676.3 192.51 676.2 193.17 676.11 C193.84 676.02 194.51 675.93 195.18 675.84 C195.85 675.75 196.51 675.65 197.18 675.57 C197.85 675.48 198.52 675.39 199.18 675.33 C199.85 675.27 200.52 675.22 201.19 675.21 C201.86 675.2 202.52 675.24 203.19 675.28 C203.86 675.33 204.53 675.41 205.2 675.49 C205.86 675.56 206.53 675.65 207.2 675.73 C207.87 675.8 208.54 675.89 209.2 675.94 C209.87 675.99 210.54 676.03 211.21 676 C211.87 675.97 212.54 675.89 213.21 675.76 C213.88 675.64 214.55 675.45 215.21 675.28 C215.88 675.1 216.55 674.89 217.22 674.7 C217.89 674.5 218.55 674.3 219.22 674.11 C219.89 673.91 220.56 673.71 221.22 673.53 C221.89 673.34 222.56 673.15 223.23 673.02 C223.9 672.89 224.56 672.78 225.23 672.75 C225.9 672.72 226.57 672.76 227.24 672.82 C227.9 672.87 228.57 672.99 229.24 673.08 C229.91 673.18 230.57 673.29 231.24 673.4 C231.91 673.5 232.58 673.62 233.25 673.71 C233.91 673.81 234.58 673.92 235.25 673.97 C235.92 674.02 236.59 674.05 237.25 673.99 C237.92 673.93 238.59 673.79 239.26 673.62 C239.93 673.45 240.59 673.19 241.26 672.96 C241.93 672.72 242.6 672.46 243.26 672.21 C243.93 671.95 244.6 671.7 245.27 671.45 C245.94 671.19 246.6 670.94 247.27 670.68 C247.94 670.43 248.61 670.18 249.28 669.92 C249.94 669.66 250.61 669.41 251.28 669.14 C251.95 668.86 252.61 668.58 253.28 668.26 C253.95 667.94 254.62 667.59 255.29 667.22 C255.95 666.85 256.62 666.44 257.29 666.04 C257.96 665.64 258.63 665.23 259.29 664.82 C259.96 664.4 260.63 663.99 261.3 663.58 C261.96 663.17 262.63 662.75 263.3 662.33 C263.97 661.91 264.64 661.48 265.3 661.05 C265.97 660.61 266.64 660.16 267.31 659.71 C267.98 659.26 268.64 658.8 269.31 658.35 C269.98 657.89 270.65 657.43 271.32 656.97 C271.98 656.52 272.65 656.06 273.32 655.6 C273.99 655.14 274.65 654.69 275.32 654.23 C275.99 653.77 276.66 653.31 277.33 652.85 C277.99 652.38 278.66 651.92 279.33 651.45 C280 650.99 280.67 650.52 281.33 650.05 C282 649.59 282.67 649.12 283.34 648.65 C284 648.18 284.67 647.72 285.34 647.25 C286.01 646.78 286.68 646.31 287.34 645.84 C288.01 645.38 288.68 644.91 289.35 644.44 C290.02 643.97 290.68 643.5 291.35 643.04 C292.02 642.57 292.69 642.1 293.36 641.64 C294.02 641.18 294.69 640.71 295.36 640.27 C296.03 639.83 296.69 639.41 297.36 639.02 C298.03 638.63 298.7 638.29 299.37 637.95 C300.03 637.61 300.7 637.31 301.37 637 C302.04 636.69 302.71 636.39 303.37 636.09 C304.04 635.78 304.71 635.48 305.38 635.17 C306.04 634.86 306.71 634.57 307.38 634.24 C308.05 633.9 308.72 633.58 309.38 633.17 C310.05 632.75 310.72 632.29 311.39 631.75 C312.06 631.21 312.72 630.58 313.39 629.95 C314.06 629.32 314.73 628.63 315.39 627.97 C316.06 627.3 316.73 626.62 317.4 625.95 C318.07 625.28 318.73 624.61 319.4 623.93 C320.07 623.25 320.74 622.58 321.41 621.89 C322.07 621.2 322.74 620.51 323.41 619.78 C324.08 619.06 324.75 618.31 325.41 617.55 C326.08 616.79 326.75 616.01 327.42 615.23 C328.08 614.45 328.75 613.66 329.42 612.88 C330.09 612.09 330.76 611.3 331.42 610.52 C332.09 609.74 332.76 608.95 333.43 608.18 C334.1 607.4 334.76 606.63 335.43 605.9 C336.1 605.16 336.77 604.46 337.43 603.79 C338.1 603.13 338.77 602.51 339.44 601.9 C340.11 601.28 340.77 600.7 341.44 600.1 C342.11 599.51 342.78 598.92 343.45 598.34 C344.11 597.76 344.78 597.16 345.45 596.62 C346.12 596.09 346.79 595.56 347.45 595.13 C348.12 594.7 348.79 594.35 349.46 594.04 C350.12 593.73 350.79 593.51 351.46 593.28 C352.13 593.04 352.8 592.83 353.46 592.62 C354.13 592.4 354.8 592.19 355.47 591.97 C356.14 591.76 356.8 591.55 357.47 591.33 C358.14 591.12 358.81 590.9 359.47 590.69 C360.14 590.47 360.81 590.26 361.48 590.05 C362.15 589.83 362.81 589.62 363.48 589.4 C364.15 589.19 364.82 588.98 365.49 588.76 C366.15 588.55 366.82 588.33 367.49 588.12 C368.16 587.9 368.82 587.69 369.49 587.48 C370.16 587.26 370.83 587.05 371.5 586.83 C372.16 586.62 372.83 586.41 373.5 586.19 C374.17 585.98 374.84 585.76 375.5 585.55 C376.17 585.33 376.84 585.12 377.51 584.91 C378.18 584.69 378.84 584.48 379.51 584.26 C380.18 584.05 380.85 583.84 381.51 583.61 C382.18 583.39 382.85 583.17 383.52 582.93 C384.19 582.68 384.85 582.43 385.52 582.15 C386.19 581.87 386.86 581.57 387.53 581.27 C388.19 580.97 388.86 580.65 389.53 580.34 C390.2 580.03 390.86 579.72 391.53 579.41 C392.2 579.09 392.87 578.78 393.54 578.47 C394.2 578.16 394.87 577.85 395.54 577.53 C396.21 577.22 396.88 576.91 397.54 576.6 C398.21 576.28 398.88 575.98 399.55 575.65 C400.21 575.32 400.88 575 401.55 574.61 C402.22 574.22 402.89 573.8 403.55 573.32 C404.22 572.83 404.89 572.26 405.56 571.69 C406.23 571.12 406.89 570.5 407.56 569.9 C408.23 569.29 408.9 568.67 409.57 568.06 C410.23 567.45 410.9 566.83 411.57 566.22 C412.24 565.61 412.9 565 413.57 564.4 C414.24 563.81 414.91 563.22 415.58 562.65 C416.24 562.08 416.91 561.53 417.58 560.98 C418.25 560.44 418.92 559.91 419.58 559.37 C420.25 558.84 420.92 558.31 421.59 557.77 C422.25 557.23 422.92 556.71 423.59 556.15 C424.26 555.59 424.93 555.03 425.59 554.43 C426.26 553.83 426.93 553.2 427.6 552.57 C428.27 551.93 428.93 551.25 429.6 550.61 C430.27 549.97 430.94 549.31 431.61 548.73 C432.27 548.14 432.94 547.58 433.61 547.1 C434.28 546.62 434.94 546.17 435.61 545.85 C436.28 545.52 436.95 545.25 437.62 545.16 C438.28 545.06 438.95 545.1 439.62 545.27 C440.29 545.44 440.96 545.73 441.62 546.17 C442.29 546.6 442.96 547.17 443.63 547.88 C444.29 548.58 444.96 549.46 445.63 550.37 C446.3 551.29 446.97 552.3 447.63 553.38 C448.3 554.47 448.97 555.62 449.64 556.87 C450.31 558.12 450.97 559.49 451.64 560.87 C452.31 562.25 452.98 563.71 453.64 565.15 C454.31 566.59 454.98 568.06 455.65 569.52 C456.32 570.98 456.98 572.46 457.65 573.93 C458.32 575.41 458.99 576.9 459.66 578.38 C460.32 579.86 460.99 581.37 461.66 582.81 C462.33 584.26 463 585.72 463.66 587.03 C464.33 588.34 465 589.57 465.67 590.67 C466.33 591.78 467 592.71 467.67 593.65 C468.34 594.58 469.01 595.43 469.67 596.28 C470.34 597.13 471.01 597.97 471.68 598.74 C472.35 599.51 473.01 600.23 473.68 600.9 C474.35 601.56 475.02 602.14 475.68 602.71 C476.35 603.29 477.02 603.81 477.69 604.35 C478.36 604.89 479.02 605.41 479.69 605.94 C480.36 606.48 481.03 607 481.7 607.54 C482.36 608.07 483.03 608.6 483.7 609.15 C484.37 609.7 485.04 610.25 485.7 610.84 C486.37 611.43 487.04 612.04 487.71 612.68 C488.37 613.31 489.04 613.98 489.71 614.64 C490.38 615.31 491.05 615.98 491.71 616.66 C492.38 617.33 493.05 618 493.72 618.67 C494.39 619.35 495.05 620.02 495.72 620.7 C496.39 621.38 497.06 622.05 497.72 622.75 C498.39 623.45 499.06 624.17 499.73 624.91 C500.4 625.65 501.06 626.42 501.73 627.2 C502.4 627.97 503.07 628.77 503.74 629.56 C504.4 630.35 505.07 631.15 505.74 631.94 C506.41 632.73 507.07 633.53 507.74 634.32 C508.41 635.11 509.08 635.91 509.75 636.67 C510.41 637.42 511.08 638.19 511.75 638.85 C512.42 639.52 513.09 640.13 513.75 640.68 C514.42 641.23 515.09 641.69 515.76 642.16 C516.43 642.63 517.09 643.06 517.76 643.5 C518.43 643.95 519.1 644.39 519.76 644.83 C520.43 645.27 521.1 645.71 521.77 646.15 C522.44 646.59 523.1 647.03 523.77 647.47 C524.44 647.91 525.11 648.35 525.78 648.79 C526.44 649.23 527.11 649.68 527.78 650.11 C528.45 650.55 529.11 651 529.78 651.4 C530.45 651.81 531.12 652.22 531.79 652.56 C532.45 652.9 533.12 653.19 533.79 653.45 C534.46 653.71 535.13 653.92 535.79 654.13 C536.46 654.35 537.13 654.54 537.8 654.75 C538.46 654.95 539.13 655.15 539.8 655.35 C540.47 655.55 541.14 655.75 541.8 655.95 C542.47 656.15 543.14 656.35 543.81 656.55 C544.48 656.75 545.14 656.95 545.81 657.15 C546.48 657.35 547.15 657.55 547.82 657.74 C548.48 657.94 549.15 658.14 549.82 658.34 C550.49 658.53 551.15 658.72 551.82 658.92 C552.49 659.11 553.16 659.3 553.83 659.49 C554.49 659.68 555.16 659.87 555.83 660.06 C556.5 660.25 557.17 660.44 557.83 660.63 C558.5 660.82 559.17 661.01 559.84 661.2 C560.5 661.39 561.17 661.58 561.84 661.77 C562.51 661.97 563.18 662.16 563.84 662.35 C564.51 662.54 565.18 662.73 565.85 662.92 C566.52 663.11 567.18 663.3 567.85 663.49 C568.52 663.69 569.19 663.88 569.86 664.09 C570.52 664.3 571.19 664.51 571.86 664.73 C572.53 664.95 573.19 665.19 573.86 665.42 C574.53 665.65 575.2 665.89 575.87 666.12 C576.53 666.36 577.2 666.59 577.87 666.83 C578.54 667.07 579.21 667.3 579.87 667.54 C580.54 667.77 581.21 668.01 581.88 668.24 C582.54 668.48 583.21 668.72 583.88 668.95 C584.55 669.19 585.22 669.42 585.88 669.66 C586.55 669.89 587.22 670.13 587.89 670.35 C588.56 670.58 589.22 670.8 589.89 670.98 C590.56 671.17 591.23 671.33 591.89 671.45 C592.56 671.57 593.23 671.65 593.9 671.73 C594.57 671.81 595.23 671.87 595.9 671.93 C596.57 671.99 597.24 672.05 597.91 672.11 C598.57 672.17 599.24 672.24 599.91 672.28 C600.58 672.32 601.25 672.37 601.91 672.36 C602.58 672.34 603.25 672.29 603.92 672.18 C604.58 672.08 605.25 671.9 605.92 671.72 C606.59 671.54 607.26 671.32 607.92 671.11 C608.59 670.9 609.26 670.68 609.93 670.47 C610.6 670.25 611.26 670.04 611.93 669.82 C612.6 669.61 613.27 669.39 613.93 669.18 C614.6 668.96 615.27 668.75 615.94 668.53 C616.61 668.32 617.27 668.1 617.94 667.88 C618.61 667.66 619.28 667.43 619.95 667.19 C620.61 666.95 621.28 666.69 621.95 666.43 C622.62 666.16 623.29 665.87 623.95 665.59 C624.62 665.31 625.29 665.02 625.96 664.73 C626.62 664.44 627.29 664.16 627.96 663.87 C628.63 663.58 629.3 663.29 629.96 663 C630.63 662.72 631.3 662.42 631.97 662.15 C632.64 661.87 633.3 661.58 633.97 661.34 C634.64 661.1 635.31 660.88 635.97 660.72 C636.64 660.56 637.31 660.47 637.98 660.4 C638.65 660.32 639.31 660.3 639.98 660.26 C640.65 660.23 641.32 660.21 641.99 660.19 C642.65 660.16 643.32 660.14 643.99 660.11 C644.66 660.09 645.32 660.07 645.99 660.04 C646.66 660.02 647.33 660 648 659.98 C648.66 659.96 649.67 659.94 650 659.93" fill="none" stroke="#C00000" stroke-width="3.2" stroke-linejoin="round"/>
<path d="M97 678.87 C97.33 678.86 98.34 678.81 99 678.78 C99.67 678.75 100.34 678.68 101.01 678.67 C101.67 678.65 102.34 678.56 103.01 678.69 C103.68 678.81 104.34 679.08 105.01 679.42 C105.68 679.76 106.35 680.3 107.01 680.72 C107.68 681.14 108.35 681.56 109.02 681.93 C109.68 682.29 110.35 682.68 111.02 682.91 C111.69 683.13 112.36 683.31 113.02 683.29 C113.69 683.27 114.36 682.99 115.03 682.78 C115.69 682.58 116.36 682.3 117.03 682.07 C117.7 681.85 118.36 681.62 119.03 681.43 C119.7 681.23 120.37 681.09 121.03 680.9 C121.7 680.71 122.37 680.6 123.04 680.3 C123.7 680.01 124.37 679.59 125.04 679.12 C125.71 678.65 126.37 677.93 127.04 677.5 C127.71 677.08 128.38 676.72 129.05 676.56 C129.71 676.39 130.38 676.51 131.05 676.54 C131.72 676.57 132.38 676.65 133.05 676.71 C133.72 676.76 134.39 676.82 135.05 676.88 C135.72 676.93 136.39 677.01 137.06 677.04 C137.72 677.08 138.39 677.12 139.06 677.1 C139.73 677.08 140.39 677.01 141.06 676.95 C141.73 676.88 142.4 676.8 143.07 676.73 C143.73 676.65 144.4 676.58 145.07 676.5 C145.74 676.43 146.4 676.36 147.07 676.28 C147.74 676.21 148.41 676.13 149.07 676.06 C149.74 675.98 150.41 675.91 151.08 675.84 C151.74 675.76 152.41 675.7 153.08 675.61 C153.75 675.52 154.41 675.43 155.08 675.3 C155.75 675.16 156.42 674.97 157.09 674.79 C157.75 674.61 158.42 674.41 159.09 674.21 C159.76 674.02 160.42 673.82 161.09 673.63 C161.76 673.44 162.43 673.24 163.09 673.06 C163.76 672.87 164.43 672.7 165.1 672.54 C165.76 672.38 166.43 672.23 167.1 672.08 C167.77 671.93 168.43 671.79 169.1 671.64 C169.77 671.49 170.44 671.35 171.1 671.2 C171.77 671.05 172.44 670.91 173.11 670.76 C173.78 670.61 174.44 670.47 175.11 670.32 C175.78 670.17 176.45 670.02 177.11 669.88 C177.78 669.73 178.45 669.58 179.12 669.44 C179.78 669.29 180.45 669.14 181.12 668.99 C181.79 668.84 182.45 668.68 183.12 668.53 C183.79 668.37 184.46 668.21 185.12 668.05 C185.79 667.89 186.46 667.73 187.13 667.57 C187.8 667.4 188.46 667.24 189.13 667.08 C189.8 666.92 190.47 666.76 191.13 666.6 C191.8 666.44 192.47 666.28 193.14 666.12 C193.8 665.96 194.47 665.8 195.14 665.64 C195.81 665.48 196.47 665.32 197.14 665.15 C197.81 664.99 198.48 664.83 199.14 664.67 C199.81 664.51 200.48 664.35 201.15 664.19 C201.82 664.03 202.48 663.87 203.15 663.71 C203.82 663.55 204.49 663.39 205.15 663.23 C205.82 663.07 206.49 662.9 207.16 662.74 C207.82 662.58 208.49 662.42 209.16 662.26 C209.83 662.1 210.49 661.95 211.16 661.78 C211.83 661.61 212.5 661.49 213.16 661.25 C213.83 661.02 214.5 660.74 215.17 660.38 C215.83 660.01 216.5 659.52 217.17 659.07 C217.84 658.62 218.51 658.14 219.17 657.67 C219.84 657.21 220.51 656.74 221.18 656.28 C221.84 655.81 222.51 655.35 223.18 654.88 C223.85 654.42 224.51 653.95 225.18 653.49 C225.85 653.03 226.52 652.56 227.18 652.12 C227.85 651.68 228.52 651.26 229.19 650.85 C229.85 650.43 230.52 650.04 231.19 649.64 C231.86 649.23 232.53 648.83 233.19 648.43 C233.86 648.02 234.53 647.62 235.2 647.22 C235.86 646.82 236.53 646.42 237.2 646.01 C237.87 645.61 238.53 645.21 239.2 644.8 C239.87 644.38 240.54 643.96 241.2 643.52 C241.87 643.08 242.54 642.6 243.21 642.14 C243.87 641.67 244.54 641.2 245.21 640.73 C245.88 640.26 246.55 639.8 247.21 639.33 C247.88 638.86 248.55 638.39 249.22 637.92 C249.88 637.45 250.55 636.99 251.22 636.51 C251.89 636.04 252.55 635.58 253.22 635.08 C253.89 634.58 254.56 634.05 255.22 633.52 C255.89 632.99 256.56 632.43 257.23 631.88 C257.89 631.34 258.56 630.79 259.23 630.24 C259.9 629.69 260.57 629.14 261.23 628.59 C261.9 628.05 262.57 627.49 263.24 626.95 C263.9 626.42 264.57 625.88 265.24 625.38 C265.91 624.87 266.57 624.41 267.24 623.93 C267.91 623.46 268.58 623 269.24 622.53 C269.91 622.06 270.58 621.6 271.25 621.13 C271.91 620.66 272.58 620.2 273.25 619.73 C273.92 619.26 274.58 618.8 275.25 618.33 C275.92 617.86 276.59 617.39 277.26 616.93 C277.92 616.46 278.59 615.99 279.26 615.53 C279.93 615.06 280.59 614.6 281.26 614.12 C281.93 613.65 282.6 613.22 283.26 612.67 C283.93 612.12 284.6 611.52 285.27 610.85 C285.93 610.17 286.6 609.39 287.27 608.64 C287.94 607.9 288.6 607.13 289.27 606.38 C289.94 605.63 290.61 604.78 291.28 604.14 C291.94 603.5 292.61 602.74 293.28 602.52 C293.95 602.31 294.61 602.66 295.28 602.83 C295.95 602.99 296.62 603.54 297.28 603.52 C297.95 603.51 298.62 603.13 299.29 602.76 C299.95 602.39 300.62 601.8 301.29 601.31 C301.96 600.82 302.62 600.32 303.29 599.83 C303.96 599.33 304.63 598.83 305.3 598.34 C305.96 597.84 306.63 597.35 307.3 596.85 C307.97 596.36 308.63 595.86 309.3 595.36 C309.97 594.87 310.64 594.37 311.3 593.87 C311.97 593.36 312.64 592.86 313.31 592.35 C313.97 591.85 314.64 591.35 315.31 590.84 C315.98 590.34 316.64 589.83 317.31 589.33 C317.98 588.82 318.65 588.32 319.31 587.81 C319.98 587.31 320.65 586.8 321.32 586.3 C321.99 585.8 322.65 585.29 323.32 584.8 C323.99 584.31 324.66 583.84 325.32 583.36 C325.99 582.89 326.66 582.42 327.33 581.95 C327.99 581.48 328.66 581.02 329.33 580.55 C330 580.08 330.66 579.61 331.33 579.14 C332 578.67 332.67 578.2 333.33 577.73 C334 577.26 334.67 576.79 335.34 576.33 C336.01 575.86 336.67 575.4 337.34 574.94 C338.01 574.48 338.68 574.02 339.34 573.57 C340.01 573.11 340.68 572.66 341.35 572.2 C342.01 571.75 342.68 571.29 343.35 570.84 C344.02 570.39 344.68 569.93 345.35 569.48 C346.02 569.02 346.69 568.57 347.35 568.11 C348.02 567.66 348.69 567.2 349.36 566.75 C350.03 566.29 350.69 565.85 351.36 565.38 C352.03 564.91 352.7 564.43 353.36 563.92 C354.03 563.4 354.7 562.83 355.37 562.27 C356.03 561.72 356.7 561.14 357.37 560.58 C358.04 560.01 358.7 559.45 359.37 558.88 C360.04 558.31 360.71 557.75 361.37 557.18 C362.04 556.61 362.71 556.04 363.38 555.48 C364.04 554.92 364.71 554.33 365.38 553.83 C366.05 553.32 366.72 552.87 367.38 552.45 C368.05 552.04 368.72 551.7 369.39 551.33 C370.05 550.96 370.72 550.6 371.39 550.25 C372.06 549.9 372.72 549.45 373.39 549.24 C374.06 549.03 374.73 548.9 375.39 549 C376.06 549.11 376.73 549.58 377.4 549.86 C378.06 550.13 379.07 550.51 379.4 550.65" fill="none" stroke="#5B9BD5" stroke-width="4.3" stroke-linecap="round" stroke-linejoin="round"/>
<path d="M379.4 551.07 C379.73 551.11 380.71 551.21 381.37 551.3 C382.03 551.39 382.68 551.49 383.34 551.6 C384 551.7 384.66 551.79 385.31 551.94 C385.97 552.08 386.63 552.27 387.28 552.46 C387.94 552.66 388.6 552.9 389.25 553.14 C389.91 553.37 390.57 553.54 391.22 553.88 C391.88 554.23 392.54 554.62 393.2 555.2 C393.85 555.78 394.51 556.56 395.17 557.37 C395.82 558.18 396.48 559.09 397.14 560.07 C397.79 561.04 398.45 562.16 399.11 563.23 C399.77 564.3 400.42 565.41 401.08 566.49 C401.74 567.58 402.39 568.7 403.05 569.72 C403.71 570.74 404.36 571.72 405.02 572.6 C405.68 573.47 406.33 574.27 406.99 574.97 C407.65 575.68 408.31 576.52 408.96 576.83 C409.62 577.14 410.28 577.05 410.93 576.84 C411.59 576.62 412.25 575.9 412.9 575.54 C413.56 575.17 414.22 574.7 414.88 574.64 C415.53 574.58 416.19 574.96 416.85 575.17 C417.5 575.39 418.16 576.12 418.82 575.94 C419.47 575.76 420.13 575.22 420.79 574.07 C421.44 572.93 422.1 570.97 422.76 569.08 C423.42 567.19 424.07 564.97 424.73 562.73 C425.39 560.5 426.37 556.84 426.7 555.66" fill="none" stroke="#5B9BD5" stroke-width="4.1" stroke-linecap="round" stroke-linejoin="round" stroke-dasharray="6.1 7.9"/>
<path d="M426.7 553.45 C427.03 553.97 428.03 555.36 428.69 556.52 C429.35 557.69 430.01 559.14 430.68 560.45 C431.34 561.77 432 563.1 432.66 564.43 C433.33 565.75 433.99 567.08 434.65 568.41 C435.32 569.73 435.98 571.06 436.64 572.38 C437.3 573.71 437.97 575.03 438.63 576.36 C439.29 577.68 439.95 579.03 440.62 580.34 C441.28 581.66 441.94 583.13 442.61 584.25 C443.27 585.37 443.93 586.39 444.59 587.07 C445.26 587.74 445.92 587.95 446.58 588.3 C447.24 588.65 447.91 588.88 448.57 589.17 C449.23 589.46 449.89 589.74 450.56 590.04 C451.22 590.35 451.88 590.67 452.55 590.99 C453.21 591.32 453.87 591.67 454.53 592 C455.2 592.34 455.86 592.68 456.52 593.02 C457.18 593.36 457.85 593.68 458.51 594.05 C459.17 594.42 459.84 594.8 460.5 595.24 C461.16 595.68 461.82 596.19 462.49 596.68 C463.15 597.17 463.81 597.68 464.47 598.18 C465.14 598.68 465.8 599.18 466.46 599.68 C467.13 600.18 467.79 600.69 468.45 601.19 C469.11 601.69 469.78 602.19 470.44 602.69 C471.1 603.19 471.76 603.69 472.43 604.18 C473.09 604.67 473.75 605.14 474.42 605.61 C475.08 606.08 475.74 606.54 476.4 607 C477.07 607.47 477.73 607.93 478.39 608.39 C479.05 608.85 479.72 609.31 480.38 609.77 C481.04 610.24 481.71 610.7 482.37 611.16 C483.03 611.62 483.69 612.08 484.36 612.55 C485.02 613.02 485.68 613.49 486.34 613.98 C487.01 614.48 487.67 615.01 488.33 615.53 C488.99 616.05 489.66 616.59 490.32 617.12 C490.98 617.65 491.65 618.18 492.31 618.72 C492.97 619.25 493.63 619.78 494.3 620.31 C494.96 620.84 495.62 621.37 496.28 621.9 C496.95 622.43 497.61 622.97 498.27 623.49 C498.94 624.01 499.6 624.53 500.26 625.03 C500.92 625.53 501.59 626.02 502.25 626.52 C502.91 627.01 503.57 627.5 504.24 627.99 C504.9 628.48 505.56 628.98 506.23 629.47 C506.89 629.96 507.55 630.45 508.21 630.94 C508.88 631.44 509.54 631.92 510.2 632.42 C510.86 632.92 511.53 633.41 512.19 633.93 C512.85 634.45 513.52 635 514.18 635.56 C514.84 636.11 515.5 636.68 516.17 637.25 C516.83 637.81 517.49 638.38 518.15 638.95 C518.82 639.52 519.48 640.08 520.14 640.65 C520.81 641.22 521.47 641.78 522.13 642.35 C522.79 642.91 523.46 643.49 524.12 644.04 C524.78 644.59 525.44 645.13 526.11 645.63 C526.77 646.13 527.43 646.58 528.09 647.05 C528.76 647.51 529.42 647.96 530.08 648.42 C530.75 648.87 531.41 649.33 532.07 649.79 C532.73 650.24 533.4 650.7 534.06 651.16 C534.72 651.61 535.38 652.07 536.05 652.52 C536.71 652.98 537.37 653.44 538.04 653.89 C538.7 654.35 539.36 654.81 540.02 655.26 C540.69 655.72 541.35 656.22 542.01 656.61 C542.67 657.01 543.67 657.47 544 657.64" fill="none" stroke="#5B9BD5" stroke-width="4.3" stroke-linecap="round" stroke-linejoin="round"/>
<path d="M544 658.38 C544.33 658.58 545.33 659.13 546 659.59 C546.67 660.06 547.33 660.63 548 661.15 C548.67 661.67 549.33 662.2 550 662.73 C550.67 663.25 551.33 663.78 552 664.3 C552.67 664.82 553.33 665.36 554 665.86 C554.67 666.37 555.33 666.86 556 667.32 C556.67 667.79 557.33 668.21 558 668.65 C558.67 669.08 559.33 669.51 560 669.94 C560.67 670.37 561.33 670.8 562 671.24 C562.67 671.67 563.33 672.09 564 672.53 C564.67 672.97 565.33 673.41 566 673.86 C566.67 674.32 567.33 674.78 568 675.25 C568.67 675.71 569.33 676.18 570 676.65 C570.67 677.11 571.33 677.58 572 678.04 C572.67 678.51 573.33 678.98 574 679.44 C574.67 679.89 575.33 680.35 576 680.78 C576.67 681.21 577.33 681.61 578 682.01 C578.67 682.42 579.33 682.81 580 683.21 C580.67 683.61 581.33 684.01 582 684.41 C582.67 684.81 583.33 685.21 584 685.6 C584.67 685.99 585.33 686.38 586 686.72 C586.67 687.06 587.33 687.36 588 687.66 C588.67 687.96 589.33 688.23 590 688.52 C590.67 688.81 591.33 689.09 592 689.38 C592.67 689.66 593.33 689.95 594 690.24 C594.67 690.52 595.33 690.81 596 691.1 C596.67 691.38 597.33 691.67 598 691.96 C598.67 692.24 599.33 692.53 600 692.83 C600.67 693.13 601.33 693.44 602 693.75 C602.67 694.06 603.33 694.37 604 694.69 C604.67 695 605.33 695.32 606 695.63 C606.67 695.94 607.33 696.26 608 696.57 C608.67 696.88 609.33 697.2 610 697.51 C610.67 697.83 611.33 698.14 612 698.45 C612.67 698.77 613.33 699.09 614 699.39 C614.67 699.69 615.33 699.99 616 700.28 C616.67 700.56 617.33 700.82 618 701.09 C618.67 701.36 619.33 701.62 620 701.88 C620.67 702.15 621.33 702.41 622 702.67 C622.67 702.94 623.33 703.2 624 703.47 C624.67 703.73 625.33 704 626 704.26 C626.67 704.52 627.33 704.79 628 705.05 C628.67 705.31 629.33 705.58 630 705.83 C630.67 706.08 631.33 706.32 632 706.56 C632.67 706.79 633.33 707 634 707.22 C634.67 707.44 635.33 707.66 636 707.88 C636.67 708.1 637.33 708.32 638 708.54 C638.67 708.76 639.33 708.98 640 709.2 C640.67 709.42 641.33 709.64 642 709.86 C642.67 710.08 643.33 710.3 644 710.52 C644.67 710.74 645.33 710.96 646 711.18 C646.67 711.4 647.33 711.64 648 711.83 C648.67 712.03 649.67 712.26 650 712.34" fill="none" stroke="#5B9BD5" stroke-width="4.1" stroke-linecap="round" stroke-linejoin="round" stroke-dasharray="6.1 7.9"/>
<path d="M97 657.06 C97.33 657.11 98.34 657.24 99 657.35 C99.67 657.46 100.34 657.6 101.01 657.73 C101.68 657.86 102.34 658 103.01 658.14 C103.68 658.28 104.35 658.42 105.01 658.56 C105.68 658.69 106.35 658.83 107.02 658.97 C107.69 659.11 108.35 659.25 109.02 659.38 C109.69 659.52 110.36 659.66 111.03 659.8 C111.69 659.94 112.36 660.07 113.03 660.21 C113.7 660.35 114.36 660.49 115.03 660.62 C115.7 660.75 116.37 660.88 117.04 660.98 C117.7 661.09 118.37 661.18 119.04 661.24 C119.71 661.31 120.38 661.34 121.04 661.38 C121.71 661.42 122.38 661.44 123.05 661.46 C123.71 661.49 124.38 661.51 125.05 661.53 C125.72 661.55 126.39 661.58 127.05 661.6 C127.72 661.62 128.39 661.65 129.06 661.67 C129.73 661.69 130.39 661.71 131.06 661.74 C131.73 661.76 132.4 661.78 133.07 661.81 C133.73 661.83 134.4 661.85 135.07 661.87 C135.74 661.9 136.4 661.92 137.07 661.94 C137.74 661.97 138.41 661.99 139.08 662.01 C139.74 662.03 140.41 662.06 141.08 662.07 C141.75 662.09 142.42 662.11 143.08 662.11 C143.75 662.1 144.42 662.09 145.09 662.05 C145.75 662.01 146.42 661.94 147.09 661.88 C147.76 661.81 148.43 661.73 149.09 661.65 C149.76 661.57 150.43 661.48 151.1 661.4 C151.77 661.32 152.43 661.24 153.1 661.15 C153.77 661.07 154.44 660.99 155.11 660.91 C155.77 660.83 156.44 660.74 157.11 660.66 C157.78 660.58 158.44 660.5 159.11 660.42 C159.78 660.33 160.45 660.25 161.12 660.17 C161.78 660.09 162.45 660 163.12 659.92 C163.79 659.84 164.46 659.76 165.12 659.68 C165.79 659.59 166.46 659.51 167.13 659.43 C167.79 659.35 168.46 659.27 169.13 659.18 C169.8 659.1 170.47 659.02 171.13 658.94 C171.8 658.85 172.47 658.77 173.14 658.69 C173.81 658.61 174.47 658.53 175.14 658.44 C175.81 658.36 176.48 658.28 177.14 658.2 C177.81 658.12 178.48 658.03 179.15 657.95 C179.82 657.87 180.48 657.79 181.15 657.72 C181.82 657.64 182.49 657.57 183.16 657.49 C183.82 657.42 184.49 657.36 185.16 657.29 C185.83 657.22 186.5 657.16 187.16 657.09 C187.83 657.03 188.5 656.96 189.17 656.89 C189.83 656.83 190.5 656.76 191.17 656.7 C191.84 656.63 192.51 656.57 193.17 656.5 C193.84 656.43 194.51 656.37 195.18 656.3 C195.85 656.24 196.51 656.17 197.18 656.1 C197.85 656.04 198.52 655.97 199.18 655.9 C199.85 655.83 200.52 655.76 201.19 655.68 C201.86 655.6 202.52 655.51 203.19 655.43 C203.86 655.34 204.53 655.24 205.2 655.15 C205.86 655.06 206.53 654.96 207.2 654.87 C207.87 654.78 208.54 654.68 209.2 654.59 C209.87 654.49 210.54 654.4 211.21 654.31 C211.87 654.21 212.54 654.12 213.21 654.02 C213.88 653.93 214.55 653.84 215.21 653.74 C215.88 653.65 216.55 653.55 217.22 653.46 C217.89 653.37 218.55 653.27 219.22 653.18 C219.89 653.08 220.56 652.99 221.22 652.9 C221.89 652.8 222.56 652.71 223.23 652.62 C223.9 652.53 224.56 652.43 225.23 652.37 C225.9 652.31 226.57 652.25 227.24 652.26 C227.9 652.26 228.57 652.31 229.24 652.38 C229.91 652.45 230.57 652.57 231.24 652.68 C231.91 652.79 232.58 652.91 233.25 653.03 C233.91 653.16 234.58 653.28 235.25 653.4 C235.92 653.52 236.59 653.65 237.25 653.75 C237.92 653.85 238.59 653.97 239.26 654 C239.93 654.04 240.59 654.03 241.26 653.96 C241.93 653.89 242.6 653.73 243.26 653.57 C243.93 653.41 244.6 653.2 245.27 653 C245.94 652.81 246.6 652.6 247.27 652.39 C247.94 652.19 248.61 651.99 249.28 651.78 C249.94 651.57 250.61 651.37 251.28 651.14 C251.95 650.9 252.61 650.66 253.28 650.37 C253.95 650.07 254.62 649.73 255.29 649.35 C255.95 648.98 256.62 648.56 257.29 648.15 C257.96 647.73 258.63 647.3 259.29 646.87 C259.96 646.44 260.63 646.01 261.3 645.58 C261.96 645.14 262.63 644.71 263.3 644.27 C263.97 643.82 264.64 643.36 265.3 642.89 C265.97 642.41 266.64 641.92 267.31 641.42 C267.98 640.93 268.64 640.41 269.31 639.91 C269.98 639.4 270.65 638.89 271.32 638.38 C271.98 637.87 272.65 637.36 273.32 636.85 C273.99 636.34 274.65 635.83 275.32 635.31 C275.99 634.8 276.66 634.28 277.33 633.76 C277.99 633.24 278.66 632.71 279.33 632.18 C280 631.65 280.67 631.12 281.33 630.58 C282 630.05 282.67 629.51 283.34 628.98 C284 628.44 284.67 627.91 285.34 627.37 C286.01 626.84 286.68 626.3 287.34 625.77 C288.01 625.23 288.68 624.69 289.35 624.16 C290.02 623.62 290.68 623.09 291.35 622.55 C292.02 622.02 292.69 621.47 293.36 620.95 C294.02 620.44 294.69 619.89 295.36 619.44 C296.03 618.98 296.69 618.55 297.36 618.22 C298.03 617.88 298.7 617.66 299.37 617.45 C300.03 617.25 300.7 617.13 301.37 616.99 C302.04 616.85 302.71 616.75 303.37 616.61 C304.04 616.48 304.71 616.37 305.38 616.19 C306.04 616.01 306.71 615.82 307.38 615.52 C308.05 615.22 308.72 614.83 309.38 614.39 C310.05 613.94 310.72 613.4 311.39 612.86 C312.06 612.33 312.72 611.76 313.39 611.17 C314.06 610.59 314.73 609.99 315.39 609.34 C316.06 608.68 316.73 607.98 317.4 607.26 C318.07 606.53 318.73 605.77 319.4 604.99 C320.07 604.2 320.74 603.43 321.41 602.56 C322.07 601.69 322.74 600.8 323.41 599.76 C324.08 598.71 324.75 597.52 325.41 596.31 C326.08 595.1 326.75 593.7 327.42 592.47 C328.08 591.23 328.75 589.93 329.42 588.89 C330.09 587.85 330.76 586.97 331.42 586.23 C332.09 585.48 332.76 584.98 333.43 584.44 C334.1 583.91 334.76 583.48 335.43 583.01 C336.1 582.55 336.77 582.1 337.43 581.66 C338.1 581.23 338.77 580.79 339.44 580.39 C340.11 580 340.77 579.63 341.44 579.27 C342.11 578.92 342.78 578.6 343.45 578.27 C344.11 577.94 344.78 577.63 345.45 577.31 C346.12 576.99 346.79 576.68 347.45 576.36 C348.12 576.04 348.79 575.72 349.46 575.41 C350.12 575.09 350.79 574.77 351.46 574.45 C352.13 574.14 352.8 573.82 353.46 573.5 C354.13 573.18 354.8 572.87 355.47 572.55 C356.14 572.23 356.8 571.91 357.47 571.6 C358.14 571.28 358.81 570.96 359.47 570.64 C360.14 570.33 360.81 570.01 361.48 569.69 C362.15 569.37 362.81 569.06 363.48 568.73 C364.15 568.39 364.82 568.06 365.49 567.7 C366.15 567.34 366.82 566.95 367.49 566.54 C368.16 566.14 368.82 565.7 369.49 565.27 C370.16 564.83 370.83 564.39 371.5 563.94 C372.16 563.5 372.83 563.06 373.5 562.61 C374.17 562.17 374.84 561.72 375.5 561.28 C376.17 560.84 376.84 560.39 377.51 559.95 C378.18 559.5 378.84 559.06 379.51 558.62 C380.18 558.17 380.85 557.73 381.51 557.28 C382.18 556.84 382.85 556.39 383.52 555.95 C384.19 555.51 384.85 555.06 385.52 554.62 C386.19 554.17 386.86 553.73 387.53 553.29 C388.19 552.84 388.86 552.4 389.53 551.95 C390.2 551.51 390.86 551.07 391.53 550.62 C392.2 550.18 392.87 549.73 393.54 549.29 C394.2 548.84 394.87 548.4 395.54 547.96 C396.21 547.51 396.88 547.07 397.54 546.62 C398.21 546.18 398.88 545.74 399.55 545.29 C400.21 544.85 400.88 544.4 401.55 543.96 C402.22 543.52 402.89 543.08 403.55 542.65 C404.22 542.23 404.89 541.81 405.56 541.43 C406.23 541.04 406.89 540.68 407.56 540.33 C408.23 539.98 408.9 539.66 409.57 539.33 C410.23 539 410.9 538.68 411.57 538.35 C412.24 538.03 412.9 537.71 413.57 537.38 C414.24 537.06 414.91 536.73 415.58 536.41 C416.24 536.09 416.91 535.76 417.58 535.44 C418.25 535.11 418.92 534.79 419.58 534.47 C420.25 534.14 420.92 533.83 421.59 533.49 C422.25 533.14 422.92 532.83 423.59 532.42 C424.26 532.02 424.93 531.59 425.59 531.06 C426.26 530.52 426.93 529.87 427.6 529.2 C428.27 528.53 428.93 527.76 429.6 527.01 C430.27 526.26 430.94 525.48 431.61 524.72 C432.27 523.96 432.94 523.17 433.61 522.45 C434.28 521.74 434.94 520.94 435.61 520.45 C436.28 519.96 436.95 519.53 437.62 519.54 C438.28 519.54 438.95 519.95 439.62 520.5 C440.29 521.05 440.96 522 441.62 522.85 C442.29 523.71 442.96 524.7 443.63 525.64 C444.29 526.58 444.96 527.53 445.63 528.49 C446.3 529.44 446.97 530.37 447.63 531.37 C448.3 532.37 448.97 533.33 449.64 534.49 C450.31 535.64 450.97 536.88 451.64 538.3 C452.31 539.72 452.98 541.35 453.64 543 C454.31 544.64 454.98 546.43 455.65 548.18 C456.32 549.92 456.98 551.7 457.65 553.47 C458.32 555.23 458.99 557 459.66 558.76 C460.32 560.52 460.99 562.31 461.66 564.01 C462.33 565.71 463 567.44 463.66 568.94 C464.33 570.44 465 571.83 465.67 573.02 C466.33 574.21 467 575.16 467.67 576.11 C468.34 577.05 469.01 577.88 469.67 578.69 C470.34 579.51 471.01 580.31 471.68 581 C472.35 581.69 473.01 582.31 473.68 582.83 C474.35 583.34 475.02 583.71 475.68 584.08 C476.35 584.45 477.02 584.73 477.69 585.04 C478.36 585.36 479.02 585.65 479.69 585.95 C480.36 586.25 481.03 586.54 481.7 586.85 C482.36 587.15 483.03 587.44 483.7 587.78 C484.37 588.12 485.04 588.46 485.7 588.88 C486.37 589.3 487.04 589.78 487.71 590.3 C488.37 590.81 489.04 591.41 489.71 591.99 C490.38 592.57 491.05 593.18 491.71 593.78 C492.38 594.38 493.05 594.98 493.72 595.58 C494.39 596.18 495.05 596.78 495.72 597.39 C496.39 598 497.06 598.6 497.72 599.24 C498.39 599.87 499.06 600.51 499.73 601.19 C500.4 601.86 501.06 602.57 501.73 603.29 C502.4 604 503.07 604.73 503.74 605.46 C504.4 606.19 505.07 606.93 505.74 607.66 C506.41 608.4 507.07 609.13 507.74 609.86 C508.41 610.59 509.08 611.33 509.75 612.05 C510.41 612.76 511.08 613.48 511.75 614.16 C512.42 614.83 513.09 615.48 513.75 616.1 C514.42 616.72 515.09 617.3 515.76 617.89 C516.43 618.47 517.09 619.04 517.76 619.61 C518.43 620.18 519.1 620.76 519.76 621.33 C520.43 621.89 521.1 622.47 521.77 623.03 C522.44 623.59 523.1 624.16 523.77 624.68 C524.44 625.19 525.11 625.69 525.78 626.12 C526.44 626.55 527.11 626.91 527.78 627.25 C528.45 627.6 529.11 627.89 529.78 628.19 C530.45 628.5 531.12 628.79 531.79 629.08 C532.45 629.38 533.12 629.67 533.79 629.96 C534.46 630.26 535.13 630.55 535.79 630.84 C536.46 631.14 537.13 631.43 537.8 631.71 C538.46 631.99 539.13 632.26 539.8 632.51 C540.47 632.76 541.14 632.99 541.8 633.21 C542.47 633.44 543.14 633.64 543.81 633.84 C544.48 634.05 545.14 634.25 545.81 634.45 C546.48 634.65 547.15 634.85 547.82 635.05 C548.48 635.25 549.15 635.45 549.82 635.65 C550.49 635.85 551.15 636.05 551.82 636.26 C552.49 636.46 553.16 636.66 553.83 636.87 C554.49 637.09 555.16 637.3 555.83 637.53 C556.5 637.75 557.17 637.99 557.83 638.23 C558.5 638.46 559.17 638.71 559.84 638.95 C560.5 639.19 561.17 639.44 561.84 639.68 C562.51 639.92 563.18 640.16 563.84 640.41 C564.51 640.65 565.18 640.89 565.85 641.14 C566.52 641.38 567.18 641.62 567.85 641.86 C568.52 642.1 569.19 642.34 569.86 642.58 C570.52 642.81 571.19 643.05 571.86 643.28 C572.53 643.5 573.19 643.73 573.86 643.95 C574.53 644.18 575.2 644.4 575.87 644.62 C576.53 644.84 577.2 645.07 577.87 645.29 C578.54 645.51 579.21 645.74 579.87 645.96 C580.54 646.18 581.21 646.4 581.88 646.63 C582.54 646.85 583.21 647.07 583.88 647.29 C584.55 647.51 585.22 647.73 585.88 647.94 C586.55 648.15 587.22 648.36 587.89 648.57 C588.56 648.78 589.22 648.98 589.89 649.18 C590.56 649.39 591.23 649.59 591.89 649.79 C592.56 649.98 593.23 650.19 593.9 650.36 C594.57 650.53 595.23 650.69 595.9 650.79 C596.57 650.89 597.24 650.95 597.91 650.98 C598.57 651.01 599.24 650.99 599.91 650.99 C600.58 650.98 601.25 650.96 601.91 650.94 C602.58 650.92 603.25 650.9 603.92 650.88 C604.58 650.86 605.25 650.85 605.92 650.82 C606.59 650.8 607.26 650.79 607.92 650.73 C608.59 650.68 609.26 650.63 609.93 650.51 C610.6 650.4 611.26 650.23 611.93 650.05 C612.6 649.86 613.27 649.61 613.93 649.38 C614.6 649.15 615.27 648.89 615.94 648.65 C616.61 648.4 617.27 648.16 617.94 647.91 C618.61 647.66 619.28 647.41 619.95 647.17 C620.61 646.92 621.28 646.67 621.95 646.43 C622.62 646.19 623.29 645.94 623.95 645.72 C624.62 645.49 625.29 645.28 625.96 645.1 C626.62 644.91 627.29 644.75 627.96 644.6 C628.63 644.45 629.3 644.32 629.96 644.19 C630.63 644.05 631.3 643.92 631.97 643.79 C632.64 643.66 633.3 643.53 633.97 643.4 C634.64 643.27 635.31 643.13 635.97 643.01 C636.64 642.88 637.31 642.74 637.98 642.62 C638.65 642.51 639.31 642.39 639.98 642.31 C640.65 642.23 641.32 642.18 641.99 642.16 C642.65 642.14 643.32 642.16 643.99 642.18 C644.66 642.2 645.32 642.24 645.99 642.28 C646.66 642.31 647.33 642.35 648 642.38 C648.66 642.41 649.67 642.44 650 642.46" fill="none" stroke="#C00000" stroke-width="2.2" stroke-dasharray="3.6 3.75" stroke-linecap="round"/>
<path d="M97 699.15 C97.33 699.19 98.34 699.3 99 699.4 C99.67 699.5 100.34 699.62 101.01 699.74 C101.68 699.85 102.34 699.98 103.01 700.1 C103.68 700.22 104.35 700.35 105.01 700.47 C105.68 700.59 106.35 700.71 107.02 700.83 C107.69 700.96 108.35 701.08 109.02 701.2 C109.69 701.32 110.36 701.45 111.03 701.57 C111.69 701.69 112.36 701.81 113.03 701.93 C113.7 702.06 114.36 702.18 115.03 702.3 C115.7 702.41 116.37 702.53 117.04 702.63 C117.7 702.74 118.37 702.83 119.04 702.9 C119.71 702.98 120.38 703.04 121.04 703.1 C121.71 703.16 122.38 703.21 123.05 703.26 C123.71 703.31 124.38 703.36 125.05 703.41 C125.72 703.46 126.39 703.51 127.05 703.57 C127.72 703.62 128.39 703.67 129.06 703.72 C129.73 703.77 130.39 703.82 131.06 703.87 C131.73 703.92 132.4 703.97 133.07 704.02 C133.73 704.07 134.4 704.12 135.07 704.18 C135.74 704.23 136.4 704.28 137.07 704.33 C137.74 704.38 138.41 704.43 139.08 704.48 C139.74 704.53 140.41 704.58 141.08 704.63 C141.75 704.67 142.42 704.71 143.08 704.73 C143.75 704.74 144.42 704.73 145.09 704.69 C145.75 704.66 146.42 704.58 147.09 704.5 C147.76 704.42 148.43 704.32 149.09 704.22 C149.76 704.12 150.43 704.02 151.1 703.92 C151.77 703.82 152.43 703.71 153.1 703.61 C153.77 703.51 154.44 703.41 155.11 703.31 C155.77 703.21 156.44 703.11 157.11 703.01 C157.78 702.91 158.44 702.81 159.11 702.7 C159.78 702.6 160.45 702.5 161.12 702.4 C161.78 702.3 162.45 702.2 163.12 702.1 C163.79 702 164.46 701.9 165.12 701.79 C165.79 701.69 166.46 701.59 167.13 701.49 C167.79 701.39 168.46 701.29 169.13 701.19 C169.8 701.09 170.47 700.99 171.13 700.88 C171.8 700.78 172.47 700.68 173.14 700.57 C173.81 700.47 174.47 700.36 175.14 700.24 C175.81 700.12 176.48 700 177.14 699.87 C177.81 699.74 178.48 699.61 179.15 699.48 C179.82 699.35 180.48 699.21 181.15 699.08 C181.82 698.95 182.49 698.82 183.16 698.69 C183.82 698.55 184.49 698.42 185.16 698.29 C185.83 698.16 186.5 698.02 187.16 697.89 C187.83 697.76 188.5 697.63 189.17 697.5 C189.83 697.36 190.5 697.23 191.17 697.11 C191.84 696.99 192.51 696.86 193.17 696.77 C193.84 696.68 194.51 696.61 195.18 696.58 C195.85 696.54 196.51 696.55 197.18 696.57 C197.85 696.58 198.52 696.62 199.18 696.66 C199.85 696.69 200.52 696.73 201.19 696.77 C201.86 696.81 202.52 696.85 203.19 696.88 C203.86 696.92 204.53 696.96 205.2 697 C205.86 697.03 206.53 697.08 207.2 697.1 C207.87 697.12 208.54 697.15 209.2 697.13 C209.87 697.11 210.54 697.07 211.21 696.98 C211.87 696.89 212.54 696.76 213.21 696.62 C213.88 696.48 214.55 696.31 215.21 696.15 C215.88 695.99 216.55 695.83 217.22 695.67 C217.89 695.51 218.55 695.34 219.22 695.18 C219.89 695.02 220.56 694.85 221.22 694.7 C221.89 694.56 222.56 694.39 223.23 694.29 C223.9 694.19 224.56 694.11 225.23 694.09 C225.9 694.07 226.57 694.12 227.24 694.18 C227.9 694.23 228.57 694.33 229.24 694.41 C229.91 694.5 230.57 694.6 231.24 694.66 C231.91 694.72 232.58 694.78 233.25 694.75 C233.91 694.72 234.58 694.64 235.25 694.49 C235.92 694.35 236.59 694.12 237.25 693.91 C237.92 693.69 238.59 693.43 239.26 693.19 C239.93 692.94 240.59 692.69 241.26 692.45 C241.93 692.2 242.6 691.95 243.26 691.7 C243.93 691.46 244.6 691.21 245.27 690.96 C245.94 690.71 246.6 690.47 247.27 690.22 C247.94 689.97 248.61 689.73 249.28 689.47 C249.94 689.22 250.61 688.98 251.28 688.71 C251.95 688.45 252.61 688.18 253.28 687.87 C253.95 687.57 254.62 687.23 255.29 686.88 C255.95 686.53 256.62 686.15 257.29 685.77 C257.96 685.39 258.63 685 259.29 684.61 C259.96 684.22 260.63 683.84 261.3 683.45 C261.96 683.06 262.63 682.67 263.3 682.27 C263.97 681.87 264.64 681.46 265.3 681.05 C265.97 680.63 266.64 680.2 267.31 679.76 C267.98 679.33 268.64 678.89 269.31 678.45 C269.98 678.01 270.65 677.56 271.32 677.12 C271.98 676.68 272.65 676.24 273.32 675.8 C273.99 675.36 274.65 674.91 275.32 674.47 C275.99 674.03 276.66 673.59 277.33 673.16 C277.99 672.72 278.66 672.29 279.33 671.85 C280 671.42 280.67 670.99 281.33 670.55 C282 670.12 282.67 669.69 283.34 669.26 C284 668.83 284.67 668.4 285.34 667.97 C286.01 667.53 286.68 667.1 287.34 666.67 C288.01 666.24 288.68 665.81 289.35 665.38 C290.02 664.95 290.68 664.52 291.35 664.08 C292.02 663.65 292.69 663.22 293.36 662.79 C294.02 662.36 294.69 661.93 295.36 661.5 C296.03 661.07 296.69 660.63 297.36 660.2 C298.03 659.77 298.7 659.34 299.37 658.91 C300.03 658.47 300.7 658.04 301.37 657.61 C302.04 657.17 302.71 656.74 303.37 656.3 C304.04 655.87 304.71 655.43 305.38 654.99 C306.04 654.56 306.71 654.12 307.38 653.69 C308.05 653.25 308.72 652.82 309.38 652.38 C310.05 651.95 310.72 651.51 311.39 651.08 C312.06 650.64 312.72 650.21 313.39 649.77 C314.06 649.33 314.73 648.9 315.39 648.46 C316.06 648.02 316.73 647.6 317.4 647.13 C318.07 646.66 318.73 646.2 319.4 645.66 C320.07 645.12 320.74 644.52 321.41 643.87 C322.07 643.23 322.74 642.5 323.41 641.77 C324.08 641.05 324.75 640.28 325.41 639.53 C326.08 638.78 326.75 638.03 327.42 637.27 C328.08 636.52 328.75 635.76 329.42 635.01 C330.09 634.25 330.76 633.5 331.42 632.75 C332.09 632 332.76 631.24 333.43 630.51 C334.1 629.79 334.76 629.07 335.43 628.39 C336.1 627.72 336.77 627.09 337.43 626.48 C338.1 625.87 338.77 625.3 339.44 624.72 C340.11 624.14 340.77 623.58 341.44 623.01 C342.11 622.45 342.78 621.88 343.45 621.31 C344.11 620.75 344.78 620.17 345.45 619.63 C346.12 619.08 346.79 618.51 347.45 618.02 C348.12 617.52 348.79 617.06 349.46 616.65 C350.12 616.24 350.79 615.91 351.46 615.59 C352.13 615.26 352.8 614.98 353.46 614.7 C354.13 614.43 354.8 614.16 355.47 613.94 C356.14 613.71 356.8 613.52 357.47 613.35 C358.14 613.18 358.81 613.05 359.47 612.92 C360.14 612.78 360.81 612.67 361.48 612.54 C362.15 612.42 362.81 612.3 363.48 612.18 C364.15 612.06 364.82 611.94 365.49 611.82 C366.15 611.7 366.82 611.58 367.49 611.47 C368.16 611.36 368.82 611.25 369.49 611.16 C370.16 611.08 370.83 611.01 371.5 610.95 C372.16 610.89 372.83 610.85 373.5 610.81 C374.17 610.76 374.84 610.73 375.5 610.69 C376.17 610.65 376.84 610.62 377.51 610.58 C378.18 610.54 378.84 610.5 379.51 610.46 C380.18 610.43 380.85 610.39 381.51 610.35 C382.18 610.3 382.85 610.27 383.52 610.2 C384.19 610.12 384.85 610.05 385.52 609.9 C386.19 609.75 386.86 609.55 387.53 609.31 C388.19 609.08 388.86 608.78 389.53 608.5 C390.2 608.21 390.86 607.91 391.53 607.61 C392.2 607.31 392.87 607.01 393.54 606.71 C394.2 606.4 394.87 606.11 395.54 605.79 C396.21 605.47 396.88 605.16 397.54 604.78 C398.21 604.4 398.88 603.98 399.55 603.49 C400.21 603 400.88 602.43 401.55 601.85 C402.22 601.27 402.89 600.63 403.55 600.01 C404.22 599.39 404.89 598.76 405.56 598.13 C406.23 597.51 406.89 596.88 407.56 596.25 C408.23 595.62 408.9 595 409.57 594.34 C410.23 593.69 410.9 593.04 411.57 592.33 C412.24 591.63 412.9 590.88 413.57 590.1 C414.24 589.33 414.91 588.5 415.58 587.68 C416.24 586.86 416.91 586.01 417.58 585.18 C418.25 584.34 418.92 583.5 419.58 582.67 C420.25 581.83 420.92 580.99 421.59 580.17 C422.25 579.35 422.92 578.5 423.59 577.76 C424.26 577.01 424.93 576.29 425.59 575.69 C426.26 575.09 426.93 574.62 427.6 574.18 C428.27 573.74 428.93 573.4 429.6 573.04 C430.27 572.69 430.94 572.36 431.61 572.05 C432.27 571.75 432.94 571.45 433.61 571.22 C434.28 570.98 434.94 570.77 435.61 570.65 C436.28 570.52 436.95 570.42 437.62 570.48 C438.28 570.53 438.95 570.68 439.62 570.98 C440.29 571.27 440.96 571.72 441.62 572.26 C442.29 572.79 442.96 573.43 443.63 574.18 C444.29 574.92 444.96 575.8 445.63 576.71 C446.3 577.63 446.97 578.66 447.63 579.68 C448.3 580.71 448.97 581.76 449.64 582.86 C450.31 583.95 450.97 585.08 451.64 586.25 C452.31 587.43 452.98 588.67 453.64 589.91 C454.31 591.14 454.98 592.43 455.65 593.69 C456.32 594.95 456.98 596.23 457.65 597.44 C458.32 598.65 458.99 599.85 459.66 600.93 C460.32 602.01 460.99 603 461.66 603.94 C462.33 604.89 463 605.73 463.66 606.6 C464.33 607.46 465 608.29 465.67 609.14 C466.33 609.98 467 610.82 467.67 611.66 C468.34 612.5 469.01 613.35 469.67 614.17 C470.34 615 471.01 615.83 471.68 616.61 C472.35 617.38 473.01 618.13 473.68 618.82 C474.35 619.52 475.02 620.15 475.68 620.78 C476.35 621.41 477.02 622 477.69 622.6 C478.36 623.2 479.02 623.79 479.69 624.39 C480.36 624.99 481.03 625.58 481.7 626.19 C482.36 626.79 483.03 627.38 483.7 628.03 C484.37 628.68 485.04 629.33 485.7 630.09 C486.37 630.85 487.04 631.7 487.71 632.59 C488.37 633.48 489.04 634.47 489.71 635.45 C490.38 636.43 491.05 637.44 491.71 638.44 C492.38 639.44 493.05 640.45 493.72 641.45 C494.39 642.46 495.05 643.47 495.72 644.46 C496.39 645.44 497.06 646.45 497.72 647.38 C498.39 648.32 499.06 649.23 499.73 650.08 C500.4 650.92 501.06 651.7 501.73 652.45 C502.4 653.21 503.07 653.93 503.74 654.62 C504.4 655.32 505.07 656 505.74 656.63 C506.41 657.27 507.07 657.86 507.74 658.44 C508.41 659.02 509.08 659.55 509.75 660.1 C510.41 660.64 511.08 661.17 511.75 661.71 C512.42 662.24 513.09 662.78 513.75 663.31 C514.42 663.85 515.09 664.39 515.76 664.91 C516.43 665.43 517.09 665.96 517.76 666.45 C518.43 666.94 519.1 667.4 519.76 667.83 C520.43 668.26 521.1 668.65 521.77 669.03 C522.44 669.42 523.1 669.78 523.77 670.15 C524.44 670.51 525.11 670.88 525.78 671.24 C526.44 671.61 527.11 671.97 527.78 672.33 C528.45 672.69 529.11 673.06 529.78 673.41 C530.45 673.75 531.12 674.09 531.79 674.4 C532.45 674.71 533.12 674.98 533.79 675.24 C534.46 675.5 535.13 675.73 535.79 675.96 C536.46 676.19 537.13 676.41 537.8 676.63 C538.46 676.86 539.13 677.08 539.8 677.3 C540.47 677.52 541.14 677.75 541.8 677.97 C542.47 678.19 543.14 678.41 543.81 678.64 C544.48 678.86 545.14 679.08 545.81 679.3 C546.48 679.53 547.15 679.75 547.82 679.97 C548.48 680.2 549.15 680.42 549.82 680.65 C550.49 680.87 551.15 681.1 551.82 681.33 C552.49 681.55 553.16 681.78 553.83 682.01 C554.49 682.24 555.16 682.47 555.83 682.7 C556.5 682.93 557.17 683.16 557.83 683.39 C558.5 683.62 559.17 683.84 559.84 684.07 C560.5 684.3 561.17 684.53 561.84 684.76 C562.51 684.99 563.18 685.22 563.84 685.45 C564.51 685.68 565.18 685.91 565.85 686.14 C566.52 686.36 567.18 686.59 567.85 686.82 C568.52 687.04 569.19 687.26 569.86 687.46 C570.52 687.67 571.19 687.86 571.86 688.03 C572.53 688.21 573.19 688.38 573.86 688.54 C574.53 688.7 575.2 688.86 575.87 689.02 C576.53 689.17 577.2 689.33 577.87 689.49 C578.54 689.64 579.21 689.8 579.87 689.96 C580.54 690.11 581.21 690.27 581.88 690.43 C582.54 690.58 583.21 690.74 583.88 690.87 C584.55 691 585.22 691.13 585.88 691.22 C586.55 691.31 587.22 691.36 587.89 691.41 C588.56 691.46 589.22 691.47 589.89 691.5 C590.56 691.52 591.23 691.53 591.89 691.55 C592.56 691.57 593.23 691.59 593.9 691.6 C594.57 691.62 595.23 691.64 595.9 691.66 C596.57 691.67 597.24 691.69 597.91 691.71 C598.57 691.73 599.24 691.74 599.91 691.76 C600.58 691.77 601.25 691.8 601.91 691.8 C602.58 691.8 603.25 691.81 603.92 691.76 C604.58 691.71 605.25 691.63 605.92 691.51 C606.59 691.38 607.26 691.19 607.92 691 C608.59 690.81 609.26 690.58 609.93 690.36 C610.6 690.15 611.26 689.92 611.93 689.7 C612.6 689.48 613.27 689.26 613.93 689.04 C614.6 688.82 615.27 688.6 615.94 688.38 C616.61 688.15 617.27 687.93 617.94 687.7 C618.61 687.47 619.28 687.23 619.95 686.97 C620.61 686.7 621.28 686.42 621.95 686.12 C622.62 685.81 623.29 685.48 623.95 685.16 C624.62 684.83 625.29 684.49 625.96 684.15 C626.62 683.82 627.29 683.48 627.96 683.15 C628.63 682.81 629.3 682.47 629.96 682.14 C630.63 681.8 631.3 681.46 631.97 681.14 C632.64 680.81 633.3 680.47 633.97 680.19 C634.64 679.91 635.31 679.64 635.97 679.45 C636.64 679.25 637.31 679.13 637.98 679.02 C638.65 678.91 639.31 678.86 639.98 678.79 C640.65 678.73 641.32 678.68 641.99 678.63 C642.65 678.58 643.32 678.52 643.99 678.47 C644.66 678.42 645.32 678.37 645.99 678.32 C646.66 678.27 647.33 678.21 648 678.17 C648.66 678.13 649.67 678.08 650 678.06" fill="none" stroke="#C00000" stroke-width="2.2" stroke-dasharray="3.6 3.75" stroke-linecap="round"/>
<circle cx="96.95" cy="714.1" r="2.8" fill="#000"/>
<circle cx="101.53" cy="688.2" r="2.8" fill="#000"/>
<circle cx="106.1" cy="668.4" r="2.8" fill="#000"/>
<circle cx="110.68" cy="676.9" r="2.8" fill="#000"/>
<circle cx="115.25" cy="671.8" r="2.8" fill="#000"/>
<circle cx="119.83" cy="673.8" r="2.8" fill="#000"/>
<circle cx="124.41" cy="686.9" r="2.8" fill="#000"/>
<circle cx="128.98" cy="715.4" r="2.8" fill="#000"/>
<circle cx="133.56" cy="674.4" r="2.8" fill="#000"/>
<circle cx="138.13" cy="662.6" r="2.8" fill="#000"/>
<circle cx="142.71" cy="663.9" r="2.8" fill="#000"/>
<circle cx="147.29" cy="671.1" r="2.8" fill="#000"/>
<circle cx="151.86" cy="664.8" r="2.8" fill="#000"/>
<circle cx="156.44" cy="686.5" r="2.8" fill="#000"/>
<circle cx="161.01" cy="701.6" r="2.8" fill="#000"/>
<circle cx="165.59" cy="672.3" r="2.8" fill="#000"/>
<circle cx="170.17" cy="646.4" r="2.8" fill="#000"/>
<circle cx="174.74" cy="666.4" r="2.8" fill="#000"/>
<circle cx="179.32" cy="671.5" r="2.8" fill="#000"/>
<circle cx="183.89" cy="662.1" r="2.8" fill="#000"/>
<circle cx="188.47" cy="682.6" r="2.8" fill="#000"/>
<circle cx="193.05" cy="699" r="2.8" fill="#000"/>
<circle cx="197.62" cy="663.3" r="2.8" fill="#000"/>
<circle cx="202.2" cy="643.6" r="2.8" fill="#000"/>
<circle cx="206.77" cy="649.8" r="2.8" fill="#000"/>
<circle cx="211.35" cy="654.1" r="2.8" fill="#000"/>
<circle cx="215.93" cy="641" r="2.8" fill="#000"/>
<circle cx="220.5" cy="668.8" r="2.8" fill="#000"/>
<circle cx="225.08" cy="687.6" r="2.8" fill="#000"/>
<circle cx="229.65" cy="657" r="2.8" fill="#000"/>
<circle cx="234.23" cy="645.2" r="2.8" fill="#000"/>
<circle cx="238.81" cy="630.7" r="2.8" fill="#000"/>
<circle cx="243.38" cy="639.7" r="2.8" fill="#000"/>
<circle cx="247.96" cy="637.3" r="2.8" fill="#000"/>
<circle cx="252.53" cy="659" r="2.8" fill="#000"/>
<circle cx="257.11" cy="684.4" r="2.8" fill="#000"/>
<circle cx="261.69" cy="649.2" r="2.8" fill="#000"/>
<circle cx="266.26" cy="612.1" r="2.8" fill="#000"/>
<circle cx="270.84" cy="614.5" r="2.8" fill="#000"/>
<circle cx="275.41" cy="616.3" r="2.8" fill="#000"/>
<circle cx="279.99" cy="608.2" r="2.8" fill="#000"/>
<circle cx="284.57" cy="643.4" r="2.8" fill="#000"/>
<circle cx="289.14" cy="670.3" r="2.8" fill="#000"/>
<circle cx="293.72" cy="622.3" r="2.8" fill="#000"/>
<circle cx="298.29" cy="603.5" r="2.8" fill="#000"/>
<circle cx="302.87" cy="571" r="2.8" fill="#000"/>
<circle cx="307.45" cy="585.6" r="2.8" fill="#000"/>
<circle cx="312.02" cy="563.9" r="2.8" fill="#000"/>
<circle cx="316.6" cy="615.1" r="2.8" fill="#000"/>
<circle cx="321.17" cy="647.3" r="2.8" fill="#000"/>
<circle cx="325.75" cy="574.9" r="2.8" fill="#000"/>
<circle cx="330.33" cy="544.1" r="2.8" fill="#000"/>
<circle cx="334.9" cy="539.8" r="2.8" fill="#000"/>
<circle cx="339.48" cy="563.8" r="2.8" fill="#000"/>
<circle cx="344.05" cy="536" r="2.8" fill="#000"/>
<circle cx="348.63" cy="593.6" r="2.8" fill="#000"/>
<circle cx="353.21" cy="642.6" r="2.8" fill="#000"/>
<circle cx="357.78" cy="546.6" r="2.8" fill="#000"/>
<circle cx="362.36" cy="523.8" r="2.8" fill="#000"/>
<circle cx="366.93" cy="499.8" r="2.8" fill="#000"/>
<circle cx="371.51" cy="578" r="2.8" fill="#000"/>
<circle cx="376.09" cy="494.3" r="2.8" fill="#000"/>
<circle cx="380.66" cy="535.7" r="2.8" fill="#000"/>
<circle cx="385.24" cy="575.3" r="2.8" fill="#000"/>
<circle cx="389.81" cy="599.9" r="2.8" fill="#000"/>
<circle cx="394.39" cy="596.6" r="2.8" fill="#000"/>
<circle cx="398.97" cy="603.3" r="2.8" fill="#000"/>
<circle cx="403.54" cy="528.2" r="2.8" fill="#000"/>
<circle cx="408.12" cy="476.8" r="2.8" fill="#000"/>
<circle cx="412.69" cy="498.9" r="2.8" fill="#000"/>
<circle cx="417.27" cy="607.4" r="2.8" fill="#000"/>
<circle cx="421.85" cy="522" r="2.8" fill="#000"/>
<circle cx="426.42" cy="513.3" r="2.8" fill="#000"/>
<circle cx="431" cy="503.8" r="2.8" fill="#000"/>
<circle cx="435.57" cy="541.1" r="2.8" fill="#000"/>
<circle cx="440.15" cy="560.7" r="2.8" fill="#000"/>
<circle cx="444.73" cy="614.5" r="2.8" fill="#000"/>
<circle cx="449.3" cy="643.6" r="2.8" fill="#000"/>
<circle cx="453.88" cy="569.5" r="2.8" fill="#000"/>
<circle cx="458.45" cy="561.3" r="2.8" fill="#000"/>
<circle cx="463.03" cy="543.4" r="2.8" fill="#000"/>
<circle cx="467.61" cy="590.2" r="2.8" fill="#000"/>
<circle cx="472.18" cy="601.1" r="2.8" fill="#000"/>
<circle cx="476.76" cy="617.2" r="2.8" fill="#000"/>
<circle cx="481.33" cy="662.6" r="2.8" fill="#000"/>
<circle cx="485.91" cy="615.2" r="2.8" fill="#000"/>
<circle cx="490.49" cy="567" r="2.8" fill="#000"/>
<circle cx="495.06" cy="582.3" r="2.8" fill="#000"/>
<circle cx="499.64" cy="598.1" r="2.8" fill="#000"/>
<circle cx="504.21" cy="612" r="2.8" fill="#000"/>
<circle cx="508.79" cy="637.5" r="2.8" fill="#000"/>
<circle cx="513.37" cy="682" r="2.8" fill="#000"/>
<circle cx="517.94" cy="631.6" r="2.8" fill="#000"/>
<circle cx="522.52" cy="627.7" r="2.8" fill="#000"/>
<circle cx="527.09" cy="622.8" r="2.8" fill="#000"/>
<circle cx="531.67" cy="631.3" r="2.8" fill="#000"/>
<circle cx="536.25" cy="639.9" r="2.8" fill="#000"/>
<circle cx="540.82" cy="660.2" r="2.8" fill="#000"/>
<circle cx="545.4" cy="687" r="2.8" fill="#000"/>
<circle cx="549.97" cy="655.5" r="2.8" fill="#000"/>
<circle cx="554.55" cy="639.3" r="2.8" fill="#000"/>
<circle cx="559.13" cy="640.4" r="2.8" fill="#000"/>
<circle cx="563.7" cy="640.4" r="2.8" fill="#000"/>
<circle cx="568.28" cy="632.7" r="2.8" fill="#000"/>
<circle cx="572.85" cy="671.7" r="2.8" fill="#000"/>
<circle cx="577.43" cy="694.1" r="2.8" fill="#000"/>
<circle cx="582.01" cy="663.1" r="2.8" fill="#000"/>
<circle cx="586.58" cy="624.5" r="2.8" fill="#000"/>
<circle cx="591.16" cy="636.3" r="2.8" fill="#000"/>
<circle cx="595.73" cy="636" r="2.8" fill="#000"/>
<circle cx="600.31" cy="650.7" r="2.8" fill="#000"/>
<circle cx="604.89" cy="654.6" r="2.8" fill="#000"/>
<circle cx="609.46" cy="687.1" r="2.8" fill="#000"/>
<circle cx="614.04" cy="639.9" r="2.8" fill="#000"/>
<circle cx="618.61" cy="596.3" r="2.8" fill="#000"/>
<circle cx="623.19" cy="608" r="2.8" fill="#000"/>
<circle cx="627.77" cy="609.9" r="2.8" fill="#000"/>
<circle cx="632.34" cy="616.7" r="2.8" fill="#000"/>
<circle cx="636.92" cy="651.9" r="2.8" fill="#000"/>
<circle cx="641.49" cy="668" r="2.8" fill="#000"/>
<circle cx="646.07" cy="630" r="2.8" fill="#000"/>
<circle cx="650.65" cy="574.3" r="2.8" fill="#000"/>
<rect x="97" y="412" width="553" height="331.3" fill="none" stroke="#000" stroke-width="2"/>
<circle cx="143.8" cy="70.4" r="2.8" fill="#000"/>
<line x1="122" y1="94" x2="170" y2="94" stroke="#000" stroke-width="3"/>
<line x1="122" y1="115.8" x2="170" y2="115.8" stroke="#5B9BD5" stroke-width="3.1"/>
<line x1="122" y1="136.7" x2="170" y2="136.7" stroke="#C00000" stroke-width="3.1"/>
<line x1="122" y1="157.7" x2="170" y2="157.7" stroke="#C00000" stroke-width="2.4" stroke-dasharray="5.5 1.85"/>
<text x="173.4" y="77.7" class="lg">Daily Positive Cases</text>
<text x="173.4" y="99.4" class="lg">Daily Positive Cases (avg.)</text>
<text x="173.4" y="121.1" class="lg">Estimated by adjusted ERN</text>
<text x="173.4" y="142.8" class="lg">Estimated by machine learning</text>
<text x="173.4" y="164.5" class="lg">95% CI</text>
</svg></body></html>
